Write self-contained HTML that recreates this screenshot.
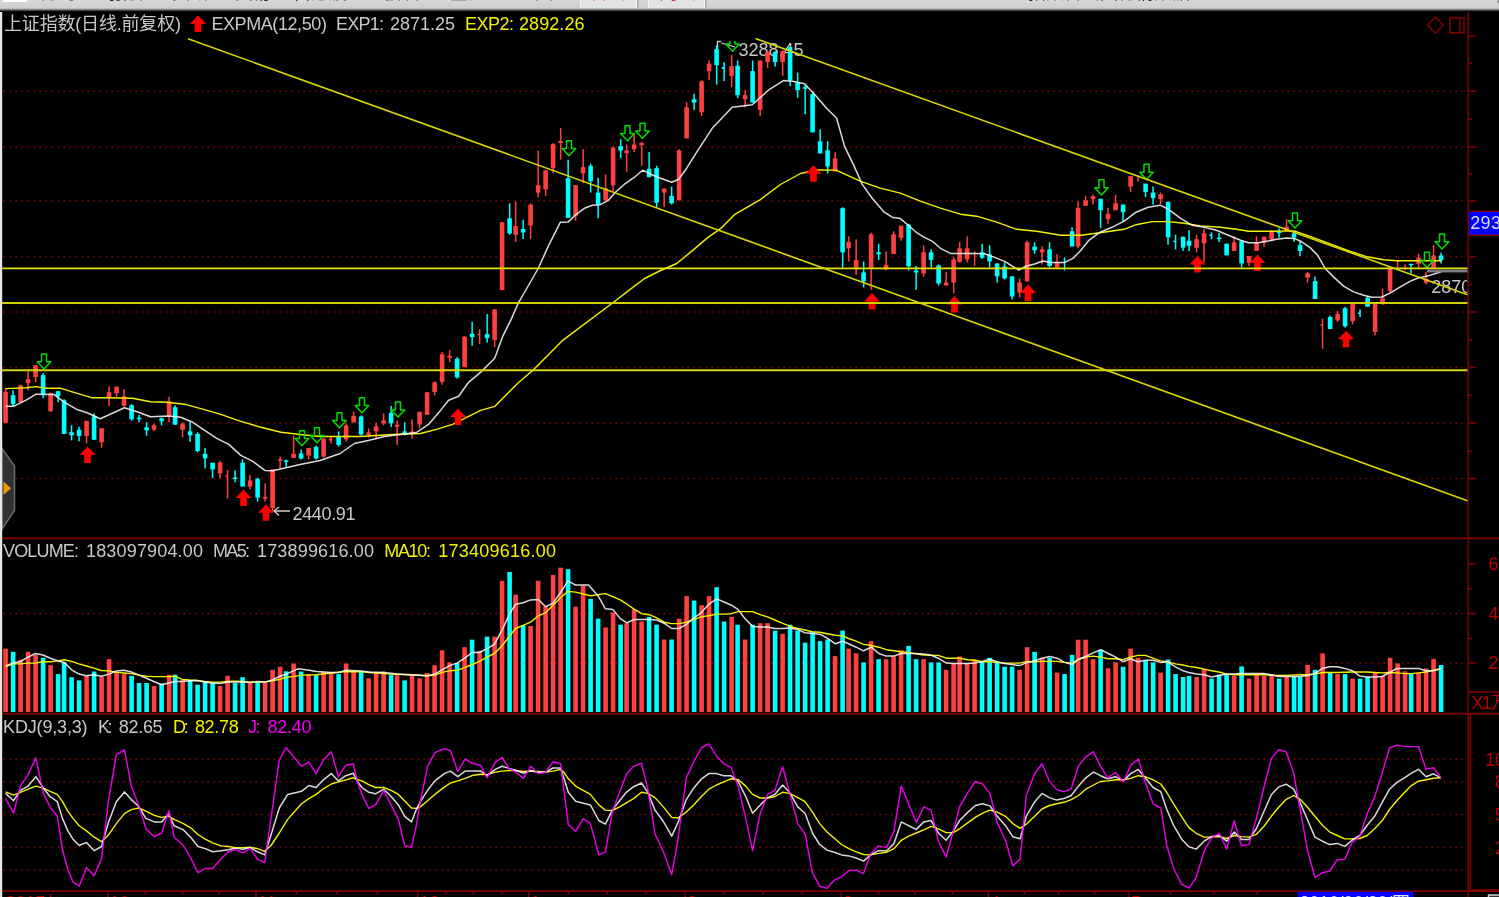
<!DOCTYPE html>
<html lang="zh"><head><meta charset="utf-8"><title>上证指数 日线</title>
<style>
html,body{margin:0;padding:0;background:#000;}
body{width:1499px;height:897px;overflow:hidden;position:relative;font-family:'Liberation Sans','Noto Sans CJK SC',sans-serif;}
#tb{position:absolute;left:0;top:0;width:1499px;height:12px;overflow:hidden;background:linear-gradient(#d8d8d8 0,#cfcfcf 8px,#b0b0b0 8.8px,#6c6c6c 9.9px,#1c1c1c 11px,#000 11.7px);font-size:18px;line-height:18px;color:#222;}
#tb span{position:absolute;top:-16.1px;white-space:nowrap;}
#tb .tab{position:absolute;top:0;height:8px;background:#e3e3e3;border-left:1.5px solid #f4f4f4;border-right:1.5px solid #f4f4f4;box-sizing:border-box;box-shadow:1.5px 0 0 #a8a8a8;}
#tb .w{position:absolute;left:3px;top:0;width:24px;height:2.2px;background:#fff;}
svg{position:absolute;left:0;top:0;}
svg text{font-family:'Liberation Sans','Noto Sans CJK SC',sans-serif;white-space:pre;}
</style></head><body>
<svg width="1499" height="897" viewBox="0 0 1499 897">
<defs><clipPath id="cm"><rect x="0" y="0" width="1467.3" height="897"/></clipPath><clipPath id="cg"><rect x="0" y="41" width="1467.3" height="497"/></clipPath></defs>
<line x1="3.55" y1="91.2" x2="1464" y2="91.2" stroke="#8c0000" stroke-width="1.5" stroke-dasharray="1.5 4.5"/>
<line x1="3.55" y1="147" x2="1464" y2="147" stroke="#8c0000" stroke-width="1.5" stroke-dasharray="1.5 4.5"/>
<line x1="3.55" y1="201" x2="1464" y2="201" stroke="#8c0000" stroke-width="1.5" stroke-dasharray="1.5 4.5"/>
<line x1="3.55" y1="256.5" x2="1464" y2="256.5" stroke="#8c0000" stroke-width="1.5" stroke-dasharray="1.5 4.5"/>
<line x1="3.55" y1="312" x2="1464" y2="312" stroke="#8c0000" stroke-width="1.5" stroke-dasharray="1.5 4.5"/>
<line x1="3.55" y1="367.5" x2="1464" y2="367.5" stroke="#8c0000" stroke-width="1.5" stroke-dasharray="1.5 4.5"/>
<line x1="3.55" y1="423" x2="1464" y2="423" stroke="#8c0000" stroke-width="1.5" stroke-dasharray="1.5 4.5"/>
<line x1="3.55" y1="478.5" x2="1464" y2="478.5" stroke="#8c0000" stroke-width="1.5" stroke-dasharray="1.5 4.5"/>
<line x1="3.55" y1="613.5" x2="1464" y2="613.5" stroke="#8c0000" stroke-width="1.5" stroke-dasharray="1.5 4.5"/>
<line x1="3.55" y1="663" x2="1464" y2="663" stroke="#8c0000" stroke-width="1.5" stroke-dasharray="1.5 4.5"/>
<line x1="3.55" y1="759.3" x2="1464" y2="759.3" stroke="#8c0000" stroke-width="1.5" stroke-dasharray="1.5 4.5"/>
<line x1="3.55" y1="781.8" x2="1464" y2="781.8" stroke="#8c0000" stroke-width="1.5" stroke-dasharray="1.5 4.5"/>
<line x1="3.55" y1="814.6" x2="1464" y2="814.6" stroke="#8c0000" stroke-width="1.5" stroke-dasharray="1.5 4.5"/>
<line x1="3.55" y1="847.6" x2="1464" y2="847.6" stroke="#8c0000" stroke-width="1.5" stroke-dasharray="1.5 4.5"/>
<line x1="3.55" y1="870.1" x2="1464" y2="870.1" stroke="#8c0000" stroke-width="1.5" stroke-dasharray="1.5 4.5"/>
<line x1="1468.3" y1="10.5" x2="1468.3" y2="897" stroke="#800000" stroke-width="1.6" />
<line x1="1470.2" y1="714" x2="1470.2" y2="891" stroke="#800000" stroke-width="1.6" />
<line x1="2" y1="538.4" x2="1499" y2="538.4" stroke="#800000" stroke-width="1.6" />
<line x1="2" y1="713.6" x2="1499" y2="713.6" stroke="#800000" stroke-width="1.6" />
<line x1="2" y1="891.1" x2="1499" y2="891.1" stroke="#800000" stroke-width="1.8" />
<line x1="1468.3" y1="35.8" x2="1476.5" y2="35.8" stroke="#800000" stroke-width="1.5" />
<line x1="1468.3" y1="91.2" x2="1476.5" y2="91.2" stroke="#800000" stroke-width="1.5" />
<line x1="1468.3" y1="147" x2="1476.5" y2="147" stroke="#800000" stroke-width="1.5" />
<line x1="1468.3" y1="201" x2="1476.5" y2="201" stroke="#800000" stroke-width="1.5" />
<line x1="1468.3" y1="256.5" x2="1476.5" y2="256.5" stroke="#800000" stroke-width="1.5" />
<line x1="1468.3" y1="312" x2="1476.5" y2="312" stroke="#800000" stroke-width="1.5" />
<line x1="1468.3" y1="367.5" x2="1476.5" y2="367.5" stroke="#800000" stroke-width="1.5" />
<line x1="1468.3" y1="423" x2="1476.5" y2="423" stroke="#800000" stroke-width="1.5" />
<line x1="1468.3" y1="478.5" x2="1476.5" y2="478.5" stroke="#800000" stroke-width="1.5" />
<line x1="1468.3" y1="63.5" x2="1472.3" y2="63.5" stroke="#800000" stroke-width="1.5" />
<line x1="1468.3" y1="119" x2="1472.3" y2="119" stroke="#800000" stroke-width="1.5" />
<line x1="1468.3" y1="174" x2="1472.3" y2="174" stroke="#800000" stroke-width="1.5" />
<line x1="1468.3" y1="284.5" x2="1472.3" y2="284.5" stroke="#800000" stroke-width="1.5" />
<line x1="1468.3" y1="340" x2="1472.3" y2="340" stroke="#800000" stroke-width="1.5" />
<line x1="1468.3" y1="395" x2="1472.3" y2="395" stroke="#800000" stroke-width="1.5" />
<line x1="1468.3" y1="451" x2="1472.3" y2="451" stroke="#800000" stroke-width="1.5" />
<line x1="1468.3" y1="563.7" x2="1476.3" y2="563.7" stroke="#800000" stroke-width="1.5" />
<line x1="1468.3" y1="589" x2="1472.3" y2="589" stroke="#800000" stroke-width="1.5" />
<line x1="1468.3" y1="613.5" x2="1476.3" y2="613.5" stroke="#800000" stroke-width="1.5" />
<line x1="1468.3" y1="638.5" x2="1472.3" y2="638.5" stroke="#800000" stroke-width="1.5" />
<line x1="1468.3" y1="663" x2="1476.3" y2="663" stroke="#800000" stroke-width="1.5" />
<line x1="1468.3" y1="692" x2="1499" y2="692" stroke="#800000" stroke-width="1.6" />
<line x1="274" y1="511" x2="290" y2="511" stroke="#d0d0d0" stroke-width="1.5" />
<polyline points="279,507 274,511 279,515.5" fill="none" stroke="#d0d0d0" stroke-width="1.3" stroke-linejoin="round" />
<text x="292.5" y="519.5" fill="#c8c8c8" font-size="18"  textLength="63" lengthAdjust="spacing">2440.91</text>
<line x1="721" y1="43" x2="735" y2="47" stroke="#d0d0d0" stroke-width="1.3" />
<polyline points="717.5,49 717.5,41.5 721,41.5" fill="none" stroke="#d0d0d0" stroke-width="1.3" stroke-linejoin="round" />
<text x="738.4" y="56" fill="#c8c8c8" font-size="18"  textLength="65" lengthAdjust="spacing">3288.45</text>
<text x="1431.3" y="293" fill="#c8c8c8" font-size="18" clip-path="url(#cm)" textLength="65" lengthAdjust="spacing">2870.00</text>
<rect x="4.8" y="388.2" width="1.5" height="35.1" fill="#ff4040" />
<rect x="3.3" y="391.8" width="4.6" height="30.9" fill="#ff4040" />
<rect x="12.3" y="390.2" width="1.5" height="16.1" fill="#00ffff" />
<rect x="10.8" y="395.2" width="4.6" height="9" fill="#00ffff" />
<rect x="19.9" y="384.6" width="1.5" height="18.1" fill="#ff4040" />
<rect x="18.3" y="385.2" width="4.6" height="17.1" fill="#ff4040" />
<rect x="27.4" y="371.1" width="1.5" height="19.1" fill="#ff4040" />
<rect x="25.8" y="379.1" width="4.6" height="4" fill="#ff4040" />
<rect x="34.9" y="365.1" width="1.5" height="17.1" fill="#ff4040" />
<rect x="33.3" y="365.1" width="4.6" height="12" fill="#ff4040" />
<rect x="42.4" y="373.1" width="1.5" height="25.1" fill="#00ffff" />
<rect x="40.8" y="375.1" width="4.6" height="20.1" fill="#00ffff" />
<rect x="49.9" y="392.6" width="1.5" height="19.1" fill="#ff4040" />
<rect x="48.3" y="393.2" width="4.6" height="18.1" fill="#ff4040" />
<rect x="57.4" y="391.2" width="1.5" height="11" fill="#00ffff" />
<rect x="55.8" y="391.2" width="4.6" height="5" fill="#00ffff" />
<rect x="63.3" y="399.2" width="1.5" height="34.7" fill="#00ffff" />
<rect x="61.8" y="400.2" width="4.6" height="33.7" fill="#00ffff" />
<rect x="70.8" y="425.3" width="1.5" height="15.1" fill="#00ffff" />
<rect x="69.3" y="432.3" width="4.6" height="3" fill="#00ffff" />
<rect x="78.3" y="426.7" width="1.5" height="14.6" fill="#00ffff" />
<rect x="76.8" y="429.7" width="4.6" height="6.2" fill="#00ffff" />
<rect x="85.8" y="420.9" width="1.5" height="22.5" fill="#ff4040" />
<rect x="84.3" y="420.9" width="4.6" height="15.1" fill="#ff4040" />
<rect x="93.3" y="413.2" width="1.5" height="26.5" fill="#00ffff" />
<rect x="91.8" y="416.3" width="4.6" height="23.5" fill="#00ffff" />
<rect x="100.8" y="428.3" width="1.5" height="19.5" fill="#ff4040" />
<rect x="99.3" y="428.3" width="4.6" height="14" fill="#ff4040" />
<rect x="108.3" y="386.2" width="1.5" height="19.7" fill="#ff4040" />
<rect x="106.8" y="392.2" width="4.6" height="5" fill="#ff4040" />
<rect x="115.8" y="386.6" width="1.5" height="10" fill="#ff4040" />
<rect x="114.3" y="386.6" width="4.6" height="6.6" fill="#ff4040" />
<rect x="123.3" y="389.2" width="1.5" height="17.5" fill="#ff4040" />
<rect x="121.8" y="396.2" width="4.6" height="9.6" fill="#ff4040" />
<rect x="130.8" y="404.2" width="1.5" height="16.5" fill="#00ffff" />
<rect x="129.3" y="405.2" width="4.6" height="14" fill="#00ffff" />
<rect x="138.3" y="414.7" width="1.5" height="7.6" fill="#00ffff" />
<rect x="136.8" y="417.7" width="4.6" height="1.6" fill="#00ffff" />
<rect x="145.8" y="422.3" width="1.5" height="13.4" fill="#00ffff" />
<rect x="144.3" y="427.3" width="4.6" height="3" fill="#00ffff" />
<rect x="153.3" y="423.9" width="1.5" height="7.4" fill="#ff4040" />
<rect x="151.8" y="425.3" width="4.6" height="4.4" fill="#ff4040" />
<rect x="160.8" y="417.3" width="1.5" height="8" fill="#00ffff" />
<rect x="159.3" y="418.3" width="4.6" height="3" fill="#00ffff" />
<rect x="168.3" y="396.8" width="1.5" height="25.5" fill="#ff4040" />
<rect x="166.8" y="401.2" width="4.6" height="15.1" fill="#ff4040" />
<rect x="174.3" y="405.2" width="1.5" height="19.5" fill="#00ffff" />
<rect x="172.8" y="407.2" width="4.6" height="17.5" fill="#00ffff" />
<rect x="181.8" y="422.3" width="1.5" height="15.1" fill="#ff4040" />
<rect x="180.3" y="423.7" width="4.6" height="6" fill="#ff4040" />
<rect x="189.3" y="422.3" width="1.5" height="19.5" fill="#00ffff" />
<rect x="187.8" y="431.3" width="4.6" height="4" fill="#00ffff" />
<rect x="196.8" y="432.3" width="1.5" height="20.1" fill="#00ffff" />
<rect x="195.3" y="433.9" width="4.6" height="17.1" fill="#00ffff" />
<rect x="204.3" y="447.8" width="1.5" height="20.7" fill="#00ffff" />
<rect x="202.8" y="453.8" width="4.6" height="4.6" fill="#00ffff" />
<rect x="211.8" y="462.8" width="1.5" height="15.3" fill="#00ffff" />
<rect x="210.3" y="462.8" width="4.6" height="6.6" fill="#00ffff" />
<rect x="219.3" y="461" width="1.5" height="17.5" fill="#ff4040" />
<rect x="217.8" y="462.4" width="4.6" height="11" fill="#ff4040" />
<rect x="226.8" y="470" width="1.5" height="28.5" fill="#ff4040" />
<rect x="225.3" y="475.4" width="2.3" height="1.5" fill="#ff4040" />
<rect x="234.3" y="470.4" width="1.5" height="12" fill="#00ffff" />
<rect x="232.8" y="477.5" width="4.6" height="1.6" fill="#00ffff" />
<rect x="241.8" y="459.4" width="1.5" height="27.1" fill="#00ffff" />
<rect x="240.3" y="462.8" width="4.6" height="23.7" fill="#00ffff" />
<rect x="249.3" y="474.9" width="1.5" height="14.6" fill="#ff4040" />
<rect x="247.8" y="480.5" width="4.6" height="6" fill="#ff4040" />
<rect x="256.9" y="477.5" width="1.5" height="24.1" fill="#00ffff" />
<rect x="255.3" y="478.9" width="4.6" height="18.7" fill="#00ffff" />
<rect x="264.4" y="483.5" width="1.5" height="18.1" fill="#ff4040" />
<rect x="262.8" y="496.9" width="4.6" height="1.6" fill="#ff4040" />
<rect x="271.9" y="469.4" width="1.5" height="42.1" fill="#ff4040" />
<rect x="270.3" y="469.4" width="4.6" height="38.7" fill="#ff4040" />
<rect x="279.4" y="456.4" width="1.5" height="12" fill="#ff4040" />
<rect x="277.8" y="459.4" width="4.6" height="1.6" fill="#ff4040" />
<rect x="285.4" y="459.4" width="1.5" height="8" fill="#00ffff" />
<rect x="283.8" y="460.4" width="4.6" height="1.5" fill="#00ffff" />
<rect x="292.9" y="435.9" width="1.5" height="21.9" fill="#ff4040" />
<rect x="291.3" y="453.8" width="4.6" height="4" fill="#ff4040" />
<rect x="300.4" y="449.5" width="1.5" height="10" fill="#00ffff" />
<rect x="298.8" y="453.5" width="4.6" height="5" fill="#00ffff" />
<rect x="307.9" y="447.9" width="1.5" height="11.6" fill="#ff4040" />
<rect x="306.3" y="447.9" width="4.6" height="7.6" fill="#ff4040" />
<rect x="315.4" y="445.5" width="1.5" height="14" fill="#00ffff" />
<rect x="313.8" y="446.9" width="4.6" height="11.6" fill="#00ffff" />
<rect x="322.9" y="438.5" width="1.5" height="19.1" fill="#ff4040" />
<rect x="321.3" y="438.5" width="4.6" height="18.1" fill="#ff4040" />
<rect x="330.4" y="436.5" width="1.5" height="7" fill="#ff4040" />
<rect x="328.8" y="438.5" width="2.3" height="2" fill="#ff4040" />
<rect x="337.9" y="431.4" width="1.5" height="15.1" fill="#00ffff" />
<rect x="336.3" y="436.5" width="4.6" height="8.4" fill="#00ffff" />
<rect x="345.4" y="423.4" width="1.5" height="18.1" fill="#ff4040" />
<rect x="343.8" y="425.4" width="4.6" height="14" fill="#ff4040" />
<rect x="352.9" y="411.4" width="1.5" height="11" fill="#ff4040" />
<rect x="351.3" y="415.8" width="4.6" height="6.6" fill="#ff4040" />
<rect x="360.4" y="415.4" width="1.5" height="20.1" fill="#00ffff" />
<rect x="358.8" y="416.4" width="4.6" height="18.1" fill="#00ffff" />
<rect x="367.9" y="428.4" width="1.5" height="9" fill="#ff4040" />
<rect x="366.3" y="432.5" width="4.6" height="2.4" fill="#ff4040" />
<rect x="375.4" y="422.8" width="1.5" height="16.7" fill="#ff4040" />
<rect x="373.8" y="426.4" width="4.6" height="5" fill="#ff4040" />
<rect x="382.9" y="413.4" width="1.5" height="12" fill="#ff4040" />
<rect x="381.3" y="420.4" width="4.6" height="3" fill="#ff4040" />
<rect x="390.4" y="406" width="1.5" height="20.9" fill="#00ffff" />
<rect x="388.8" y="412.8" width="4.6" height="10.6" fill="#00ffff" />
<rect x="396.4" y="420.4" width="1.5" height="24.5" fill="#ff4040" />
<rect x="394.8" y="424.8" width="4.6" height="2" fill="#ff4040" />
<rect x="403.9" y="422.4" width="1.5" height="13" fill="#00ffff" />
<rect x="402.3" y="431.4" width="4.6" height="3.4" fill="#00ffff" />
<rect x="411.4" y="419.4" width="1.5" height="19.5" fill="#ff4040" />
<rect x="409.8" y="431.4" width="4.6" height="2" fill="#ff4040" />
<rect x="418.9" y="411.8" width="1.5" height="16.7" fill="#ff4040" />
<rect x="417.3" y="411.8" width="4.6" height="12.6" fill="#ff4040" />
<rect x="426.4" y="392.3" width="1.5" height="22.5" fill="#ff4040" />
<rect x="424.8" y="392.3" width="4.6" height="22.5" fill="#ff4040" />
<rect x="433.9" y="381.3" width="1.5" height="14" fill="#ff4040" />
<rect x="432.3" y="382.3" width="4.6" height="9.6" fill="#ff4040" />
<rect x="441.4" y="351.8" width="1.5" height="32.9" fill="#ff4040" />
<rect x="439.8" y="354.2" width="4.6" height="27.7" fill="#ff4040" />
<rect x="448.9" y="350.2" width="1.5" height="12" fill="#ff4040" />
<rect x="447.3" y="355.8" width="4.6" height="2" fill="#ff4040" />
<rect x="456.4" y="357.2" width="1.5" height="21.5" fill="#00ffff" />
<rect x="454.8" y="358.8" width="4.6" height="18.5" fill="#00ffff" />
<rect x="463.9" y="336.5" width="1.5" height="30.7" fill="#ff4040" />
<rect x="462.3" y="336.5" width="4.6" height="30.7" fill="#ff4040" />
<rect x="471.4" y="321.7" width="1.5" height="24.1" fill="#00ffff" />
<rect x="469.8" y="333.7" width="4.6" height="3.4" fill="#00ffff" />
<rect x="478.9" y="329.1" width="1.5" height="15.1" fill="#ff4040" />
<rect x="477.3" y="333.7" width="2.3" height="1.6" fill="#ff4040" />
<rect x="486.4" y="314" width="1.5" height="28.7" fill="#00ffff" />
<rect x="484.8" y="334.1" width="4.6" height="4" fill="#00ffff" />
<rect x="493.9" y="309.4" width="1.5" height="37.7" fill="#ff4040" />
<rect x="492.3" y="309.4" width="4.6" height="30.7" fill="#ff4040" />
<rect x="501.4" y="222.3" width="1.5" height="67.8" fill="#ff4040" />
<rect x="499.8" y="222.3" width="4.6" height="67.8" fill="#ff4040" />
<rect x="508.9" y="203.3" width="1.5" height="31.5" fill="#00ffff" />
<rect x="507.3" y="218.3" width="4.6" height="15.1" fill="#00ffff" />
<rect x="514.9" y="201.3" width="1.5" height="40.7" fill="#ff4040" />
<rect x="513.3" y="226" width="4.6" height="8.8" fill="#ff4040" />
<rect x="522.4" y="219.7" width="1.5" height="19.3" fill="#00ffff" />
<rect x="520.8" y="229" width="4.6" height="3.4" fill="#00ffff" />
<rect x="529.9" y="203.3" width="1.5" height="35.7" fill="#ff4040" />
<rect x="528.3" y="204.7" width="4.6" height="20.7" fill="#ff4040" />
<rect x="537.4" y="150.5" width="1.5" height="46.8" fill="#ff4040" />
<rect x="535.8" y="185.2" width="4.6" height="7.4" fill="#ff4040" />
<rect x="544.9" y="170.2" width="1.5" height="25.7" fill="#ff4040" />
<rect x="543.3" y="170.2" width="4.6" height="19.1" fill="#ff4040" />
<rect x="552.4" y="143.1" width="1.5" height="30.1" fill="#ff4040" />
<rect x="550.8" y="144.1" width="4.6" height="24.1" fill="#ff4040" />
<rect x="559.9" y="128" width="1.5" height="31.7" fill="#ff4040" />
<rect x="558.3" y="141.1" width="4.6" height="2" fill="#ff4040" />
<rect x="567.4" y="159.7" width="1.5" height="58.2" fill="#00ffff" />
<rect x="565.8" y="178.2" width="4.6" height="39.7" fill="#00ffff" />
<rect x="574.9" y="185.2" width="1.5" height="35.7" fill="#ff4040" />
<rect x="573.3" y="185.2" width="4.6" height="30.7" fill="#ff4040" />
<rect x="582.4" y="149.1" width="1.5" height="34.1" fill="#ff4040" />
<rect x="580.8" y="167.2" width="4.6" height="6" fill="#ff4040" />
<rect x="589.9" y="163.7" width="1.5" height="28.9" fill="#00ffff" />
<rect x="588.3" y="165.8" width="4.6" height="15.5" fill="#00ffff" />
<rect x="597.4" y="177.8" width="1.5" height="40.5" fill="#00ffff" />
<rect x="595.8" y="192.6" width="4.6" height="11.6" fill="#00ffff" />
<rect x="604.9" y="174.6" width="1.5" height="26.7" fill="#ff4040" />
<rect x="603.3" y="188.2" width="4.6" height="12" fill="#ff4040" />
<rect x="612.4" y="146.1" width="1.5" height="45.2" fill="#ff4040" />
<rect x="610.8" y="147.7" width="4.6" height="37.5" fill="#ff4040" />
<rect x="619.9" y="139.1" width="1.5" height="19.1" fill="#00ffff" />
<rect x="618.3" y="146.1" width="4.6" height="4.4" fill="#00ffff" />
<rect x="625.9" y="144.5" width="1.5" height="27.3" fill="#ff4040" />
<rect x="624.3" y="150.5" width="4.6" height="2.6" fill="#ff4040" />
<rect x="633.4" y="133.6" width="1.5" height="18.5" fill="#ff4040" />
<rect x="631.8" y="144.5" width="4.6" height="4.6" fill="#ff4040" />
<rect x="640.9" y="141.7" width="1.5" height="24.1" fill="#ff4040" />
<rect x="639.3" y="143.1" width="4.6" height="2" fill="#ff4040" />
<rect x="648.4" y="152.1" width="1.5" height="25.1" fill="#00ffff" />
<rect x="646.8" y="168.8" width="4.6" height="8.4" fill="#00ffff" />
<rect x="655.9" y="165.8" width="1.5" height="41.5" fill="#00ffff" />
<rect x="654.3" y="168.2" width="4.6" height="34.5" fill="#00ffff" />
<rect x="663.4" y="188.6" width="1.5" height="18.7" fill="#ff4040" />
<rect x="661.8" y="188.6" width="4.6" height="4" fill="#ff4040" />
<rect x="670.9" y="186.6" width="1.5" height="18.1" fill="#00ffff" />
<rect x="669.3" y="195.9" width="4.6" height="7.4" fill="#00ffff" />
<rect x="678.4" y="149.1" width="1.5" height="51.2" fill="#ff4040" />
<rect x="676.8" y="150.5" width="4.6" height="49.8" fill="#ff4040" />
<rect x="685.9" y="102.2" width="1.5" height="36.1" fill="#ff4040" />
<rect x="684.3" y="107.3" width="4.6" height="31.1" fill="#ff4040" />
<rect x="693.4" y="93.8" width="1.5" height="16.1" fill="#00ffff" />
<rect x="691.8" y="99.2" width="4.6" height="3.4" fill="#00ffff" />
<rect x="700.9" y="80.2" width="1.5" height="35.7" fill="#ff4040" />
<rect x="699.3" y="81.2" width="4.6" height="31.1" fill="#ff4040" />
<rect x="708.4" y="60.5" width="1.5" height="19.7" fill="#ff4040" />
<rect x="706.8" y="63.7" width="4.6" height="7.4" fill="#ff4040" />
<rect x="715.9" y="45.1" width="1.5" height="39.5" fill="#00ffff" />
<rect x="714.3" y="49.1" width="4.6" height="16.1" fill="#00ffff" />
<rect x="723.4" y="62.1" width="1.5" height="19.1" fill="#00ffff" />
<rect x="721.8" y="67.1" width="2.3" height="2" fill="#00ffff" />
<rect x="730.9" y="55.1" width="1.5" height="32.1" fill="#ff4040" />
<rect x="729.3" y="66.1" width="4.6" height="10" fill="#ff4040" />
<rect x="736.9" y="60.5" width="1.5" height="37.7" fill="#00ffff" />
<rect x="735.3" y="65.7" width="4.6" height="29.5" fill="#00ffff" />
<rect x="744.4" y="90.2" width="1.5" height="17.1" fill="#ff4040" />
<rect x="742.8" y="95.2" width="4.6" height="4" fill="#ff4040" />
<rect x="751.9" y="60.5" width="1.5" height="42.1" fill="#00ffff" />
<rect x="750.3" y="71.1" width="4.6" height="31.5" fill="#00ffff" />
<rect x="759.4" y="60.5" width="1.5" height="55.4" fill="#ff4040" />
<rect x="757.8" y="60.5" width="4.6" height="49.4" fill="#ff4040" />
<rect x="766.9" y="51.1" width="1.5" height="17.1" fill="#ff4040" />
<rect x="765.3" y="52.1" width="4.6" height="10" fill="#ff4040" />
<rect x="774.4" y="51.1" width="1.5" height="15.5" fill="#00ffff" />
<rect x="772.8" y="52.1" width="4.6" height="10" fill="#00ffff" />
<rect x="781.9" y="50.1" width="1.5" height="25.7" fill="#ff4040" />
<rect x="780.3" y="51.1" width="4.6" height="11" fill="#ff4040" />
<rect x="789.4" y="47.1" width="1.5" height="39.1" fill="#00ffff" />
<rect x="787.8" y="47.1" width="4.6" height="33.1" fill="#00ffff" />
<rect x="796.9" y="72.5" width="1.5" height="25.3" fill="#00ffff" />
<rect x="795.3" y="82.6" width="4.6" height="7.6" fill="#00ffff" />
<rect x="804.4" y="85.2" width="1.5" height="29.1" fill="#00ffff" />
<rect x="802.8" y="87.2" width="4.6" height="1.6" fill="#00ffff" />
<rect x="811.9" y="91.2" width="1.5" height="41.1" fill="#00ffff" />
<rect x="810.3" y="94.2" width="4.6" height="38.1" fill="#00ffff" />
<rect x="819.4" y="129.3" width="1.5" height="24.1" fill="#00ffff" />
<rect x="817.8" y="141.4" width="4.6" height="12" fill="#00ffff" />
<rect x="826.9" y="141.4" width="1.5" height="32.1" fill="#00ffff" />
<rect x="825.3" y="150.4" width="4.6" height="16.1" fill="#00ffff" />
<rect x="834.4" y="152" width="1.5" height="19.5" fill="#ff4040" />
<rect x="832.8" y="158.4" width="4.6" height="13" fill="#ff4040" />
<rect x="841.9" y="207.2" width="1.5" height="60.2" fill="#00ffff" />
<rect x="840.3" y="208.2" width="4.6" height="44.2" fill="#00ffff" />
<rect x="847.9" y="236.3" width="1.5" height="25.1" fill="#ff4040" />
<rect x="846.3" y="241.9" width="4.6" height="6.4" fill="#ff4040" />
<rect x="855.4" y="239.3" width="1.5" height="35.5" fill="#ff4040" />
<rect x="853.8" y="260" width="4.6" height="9.4" fill="#ff4040" />
<rect x="862.9" y="261.4" width="1.5" height="26.1" fill="#00ffff" />
<rect x="861.3" y="272.4" width="4.6" height="9" fill="#00ffff" />
<rect x="870.4" y="232.7" width="1.5" height="57.2" fill="#ff4040" />
<rect x="868.8" y="234.3" width="4.6" height="34.1" fill="#ff4040" />
<rect x="877.9" y="243.7" width="1.5" height="16.3" fill="#00ffff" />
<rect x="876.3" y="252.3" width="4.6" height="2" fill="#00ffff" />
<rect x="885.4" y="251.3" width="1.5" height="19.1" fill="#ff4040" />
<rect x="883.8" y="264.8" width="4.6" height="4.6" fill="#ff4040" />
<rect x="892.9" y="231.3" width="1.5" height="22.7" fill="#ff4040" />
<rect x="891.3" y="234.3" width="4.6" height="19.7" fill="#ff4040" />
<rect x="900.4" y="225.7" width="1.5" height="15.1" fill="#ff4040" />
<rect x="898.8" y="225.7" width="4.6" height="12.2" fill="#ff4040" />
<rect x="907.9" y="223.7" width="1.5" height="46.8" fill="#00ffff" />
<rect x="906.3" y="224.7" width="4.6" height="41.7" fill="#00ffff" />
<rect x="915.4" y="266" width="1.5" height="23.9" fill="#00ffff" />
<rect x="913.8" y="270.4" width="4.6" height="2" fill="#00ffff" />
<rect x="922.9" y="245.3" width="1.5" height="31.5" fill="#ff4040" />
<rect x="921.3" y="252.3" width="4.6" height="21.1" fill="#ff4040" />
<rect x="930.4" y="249.3" width="1.5" height="18.1" fill="#00ffff" />
<rect x="928.8" y="252.3" width="4.6" height="7.6" fill="#00ffff" />
<rect x="937.9" y="264.4" width="1.5" height="21.1" fill="#00ffff" />
<rect x="936.3" y="265.4" width="4.6" height="18.1" fill="#00ffff" />
<rect x="945.4" y="272" width="1.5" height="13.4" fill="#ff4040" />
<rect x="943.8" y="282.5" width="4.6" height="3" fill="#ff4040" />
<rect x="952.9" y="256.8" width="1.5" height="36.7" fill="#ff4040" />
<rect x="951.3" y="259.4" width="4.6" height="23.1" fill="#ff4040" />
<rect x="958.9" y="241.9" width="1.5" height="20.9" fill="#ff4040" />
<rect x="957.3" y="248.3" width="4.6" height="13.6" fill="#ff4040" />
<rect x="966.4" y="236.3" width="1.5" height="26.1" fill="#ff4040" />
<rect x="964.8" y="248.3" width="4.6" height="11" fill="#ff4040" />
<rect x="973.9" y="251.3" width="1.5" height="14.6" fill="#ff4040" />
<rect x="981.4" y="243.7" width="1.5" height="15.1" fill="#00ffff" />
<rect x="979.8" y="252.3" width="4.6" height="5.4" fill="#00ffff" />
<rect x="988.9" y="245.3" width="1.5" height="22.1" fill="#00ffff" />
<rect x="987.3" y="254.4" width="4.6" height="7" fill="#00ffff" />
<rect x="996.4" y="263.4" width="1.5" height="19.1" fill="#00ffff" />
<rect x="994.8" y="263.4" width="4.6" height="13" fill="#00ffff" />
<rect x="1003.9" y="262.4" width="1.5" height="17.1" fill="#00ffff" />
<rect x="1002.3" y="266.4" width="4.6" height="12" fill="#00ffff" />
<rect x="1011.4" y="276.4" width="1.5" height="23.1" fill="#00ffff" />
<rect x="1009.8" y="276.4" width="4.6" height="20.1" fill="#00ffff" />
<rect x="1018.9" y="278.4" width="1.5" height="19.1" fill="#ff4040" />
<rect x="1017.3" y="282.5" width="4.6" height="10" fill="#ff4040" />
<rect x="1026.3" y="240.7" width="1.5" height="40.7" fill="#ff4040" />
<rect x="1024.8" y="242.3" width="4.6" height="39.1" fill="#ff4040" />
<rect x="1033.8" y="242.3" width="1.5" height="11.6" fill="#00ffff" />
<rect x="1032.3" y="246.7" width="4.6" height="3.6" fill="#00ffff" />
<rect x="1041.3" y="246.3" width="1.5" height="18.1" fill="#ff4040" />
<rect x="1039.8" y="249.3" width="4.6" height="3" fill="#ff4040" />
<rect x="1048.8" y="242.3" width="1.5" height="25.1" fill="#00ffff" />
<rect x="1047.3" y="249.3" width="4.6" height="16.7" fill="#00ffff" />
<rect x="1056.3" y="254" width="1.5" height="13.4" fill="#ff4040" />
<rect x="1054.8" y="262.4" width="4.6" height="5" fill="#ff4040" />
<rect x="1063.8" y="257.4" width="1.5" height="13" fill="#00ffff" />
<rect x="1071.3" y="227.3" width="1.5" height="19.1" fill="#00ffff" />
<rect x="1069.8" y="231.3" width="4.6" height="15.1" fill="#00ffff" />
<rect x="1077.3" y="201.2" width="1.5" height="47.2" fill="#ff4040" />
<rect x="1075.8" y="207.8" width="4.6" height="38.5" fill="#ff4040" />
<rect x="1084.8" y="195.8" width="1.5" height="10" fill="#ff4040" />
<rect x="1083.3" y="200.2" width="4.6" height="5.6" fill="#ff4040" />
<rect x="1092.3" y="194.6" width="1.5" height="10" fill="#ff4040" />
<rect x="1090.8" y="196.2" width="4.6" height="3" fill="#ff4040" />
<rect x="1099.8" y="198.8" width="1.5" height="29.5" fill="#00ffff" />
<rect x="1098.3" y="198.8" width="4.6" height="11.4" fill="#00ffff" />
<rect x="1107.3" y="207.8" width="1.5" height="16.1" fill="#ff4040" />
<rect x="1105.8" y="213.8" width="4.6" height="5.4" fill="#ff4040" />
<rect x="1114.8" y="194.6" width="1.5" height="15.7" fill="#ff4040" />
<rect x="1113.3" y="203.2" width="4.6" height="7" fill="#ff4040" />
<rect x="1122.3" y="204.6" width="1.5" height="16.7" fill="#00ffff" />
<rect x="1120.8" y="204.6" width="4.6" height="7.6" fill="#00ffff" />
<rect x="1129.8" y="176.1" width="1.5" height="16.1" fill="#ff4040" />
<rect x="1128.3" y="176.1" width="4.6" height="10.4" fill="#ff4040" />
<rect x="1137.3" y="176.1" width="1.5" height="5.6" fill="#ff4040" />
<rect x="1144.8" y="183.7" width="1.5" height="13.4" fill="#00ffff" />
<rect x="1143.3" y="183.7" width="4.6" height="8.4" fill="#00ffff" />
<rect x="1152.3" y="186.5" width="1.5" height="18.1" fill="#00ffff" />
<rect x="1150.8" y="192.5" width="4.6" height="5.6" fill="#00ffff" />
<rect x="1159.8" y="192.5" width="1.5" height="11.6" fill="#ff4040" />
<rect x="1158.3" y="194.2" width="4.6" height="5" fill="#ff4040" />
<rect x="1167.3" y="201.8" width="1.5" height="42.9" fill="#00ffff" />
<rect x="1165.8" y="201.8" width="4.6" height="35.5" fill="#00ffff" />
<rect x="1174.8" y="234.7" width="1.5" height="14.6" fill="#00ffff" />
<rect x="1173.3" y="240.6" width="2.3" height="1.5" fill="#00ffff" />
<rect x="1182.3" y="236.7" width="1.5" height="14.2" fill="#00ffff" />
<rect x="1180.8" y="236.7" width="4.6" height="11" fill="#00ffff" />
<rect x="1188.3" y="230.3" width="1.5" height="20.7" fill="#00ffff" />
<rect x="1186.8" y="240.7" width="4.6" height="5.2" fill="#00ffff" />
<rect x="1195.8" y="234.7" width="1.5" height="17.7" fill="#ff4040" />
<rect x="1194.3" y="239.3" width="4.6" height="8.4" fill="#ff4040" />
<rect x="1203.3" y="228.7" width="1.5" height="33.7" fill="#ff4040" />
<rect x="1201.8" y="233.3" width="4.6" height="10" fill="#ff4040" />
<rect x="1210.8" y="232.3" width="1.5" height="7" fill="#00ffff" />
<rect x="1209.3" y="234.5" width="2.3" height="1.5" fill="#00ffff" />
<rect x="1218.3" y="233.3" width="1.5" height="9" fill="#00ffff" />
<rect x="1216.8" y="237.6" width="4.6" height="1.5" fill="#00ffff" />
<rect x="1225.8" y="243.7" width="1.5" height="11.6" fill="#00ffff" />
<rect x="1224.3" y="243.7" width="4.6" height="11.6" fill="#00ffff" />
<rect x="1233.3" y="236.3" width="1.5" height="14.6" fill="#ff4040" />
<rect x="1231.8" y="242.3" width="4.6" height="8.6" fill="#ff4040" />
<rect x="1240.8" y="240.3" width="1.5" height="27.1" fill="#00ffff" />
<rect x="1239.3" y="241.3" width="4.6" height="22.1" fill="#00ffff" />
<rect x="1248.3" y="256" width="1.5" height="10" fill="#ff4040" />
<rect x="1246.8" y="256" width="4.6" height="6.8" fill="#ff4040" />
<rect x="1255.8" y="236.3" width="1.5" height="14.6" fill="#ff4040" />
<rect x="1254.3" y="242.7" width="4.6" height="8.2" fill="#ff4040" />
<rect x="1263.3" y="236.7" width="1.5" height="10" fill="#ff4040" />
<rect x="1261.8" y="236.7" width="4.6" height="6" fill="#ff4040" />
<rect x="1270.8" y="230.3" width="1.5" height="11" fill="#ff4040" />
<rect x="1269.3" y="231.3" width="4.6" height="8" fill="#ff4040" />
<rect x="1278.3" y="228.3" width="1.5" height="9.4" fill="#00ffff" />
<rect x="1276.8" y="231.7" width="4.6" height="1.5" fill="#00ffff" />
<rect x="1285.8" y="219.2" width="1.5" height="11.7" fill="#ff4040" />
<rect x="1284.3" y="226.7" width="4.6" height="4.2" fill="#ff4040" />
<rect x="1293.3" y="232.6" width="1.5" height="9.2" fill="#00ffff" />
<rect x="1291.8" y="233.4" width="4.6" height="4.2" fill="#00ffff" />
<rect x="1299.3" y="240.9" width="1.5" height="15.1" fill="#00ffff" />
<rect x="1297.8" y="245.1" width="4.6" height="5.9" fill="#00ffff" />
<rect x="1306.8" y="271.9" width="1.5" height="10.9" fill="#ff4040" />
<rect x="1305.3" y="273.2" width="4.6" height="4.5" fill="#ff4040" />
<rect x="1314.3" y="276.6" width="1.5" height="22.4" fill="#00ffff" />
<rect x="1312.8" y="281.1" width="4.6" height="17.9" fill="#00ffff" />
<rect x="1321.8" y="318.7" width="1.5" height="30.1" fill="#ff4040" />
<rect x="1320.3" y="324.3" width="2.3" height="1.5" fill="#ff4040" />
<rect x="1329.3" y="315.7" width="1.5" height="13.4" fill="#00ffff" />
<rect x="1327.8" y="317" width="4.6" height="12" fill="#00ffff" />
<rect x="1336.8" y="311.2" width="1.5" height="10.5" fill="#ff4040" />
<rect x="1335.3" y="314" width="4.6" height="6.4" fill="#ff4040" />
<rect x="1344.3" y="307" width="1.5" height="20.6" fill="#00ffff" />
<rect x="1342.8" y="308.3" width="4.6" height="17.9" fill="#00ffff" />
<rect x="1351.8" y="303.6" width="1.5" height="20.9" fill="#ff4040" />
<rect x="1350.3" y="303.6" width="4.6" height="17.6" fill="#ff4040" />
<rect x="1359.3" y="309.5" width="1.5" height="7.5" fill="#00ffff" />
<rect x="1357.8" y="312.6" width="2.3" height="1.5" fill="#00ffff" />
<rect x="1366.8" y="296.1" width="1.5" height="10.5" fill="#00ffff" />
<rect x="1365.3" y="297.8" width="4.6" height="8.9" fill="#00ffff" />
<rect x="1374.3" y="303.6" width="1.5" height="31.8" fill="#ff4040" />
<rect x="1372.8" y="303.6" width="4.6" height="28.4" fill="#ff4040" />
<rect x="1381.8" y="288.6" width="1.5" height="16.4" fill="#ff4040" />
<rect x="1380.3" y="298.3" width="4.6" height="5" fill="#ff4040" />
<rect x="1389.3" y="266.5" width="1.5" height="27.1" fill="#ff4040" />
<rect x="1387.8" y="267.7" width="4.6" height="23.4" fill="#ff4040" />
<rect x="1396.8" y="261" width="1.5" height="6.7" fill="#ff4040" />
<rect x="1404.3" y="264.3" width="1.5" height="5.9" fill="#ff4040" />
<rect x="1410.3" y="263.8" width="1.5" height="9.7" fill="#00ffff" />
<rect x="1408.8" y="263.8" width="4.6" height="1.5" fill="#00ffff" />
<rect x="1417.8" y="253.8" width="1.5" height="13.9" fill="#ff4040" />
<rect x="1416.3" y="257.7" width="4.6" height="6.2" fill="#ff4040" />
<rect x="1425.3" y="272.2" width="1.5" height="12.2" fill="#ff4040" />
<rect x="1423.8" y="278.6" width="4.6" height="4.2" fill="#ff4040" />
<rect x="1432.8" y="245.1" width="1.5" height="22.6" fill="#ff4040" />
<rect x="1431.3" y="255.5" width="4.6" height="12.2" fill="#ff4040" />
<rect x="1440.3" y="252.6" width="1.5" height="10.9" fill="#00ffff" />
<rect x="1438.8" y="255.5" width="4.6" height="4.7" fill="#00ffff" />
<polyline points="5.8,388.6 26.1,387.8 36.1,386.6 46.2,388.2 60.2,388.2 76.3,393.2 92.3,397.8 108.4,397.8 132.5,398.2 150.5,401.8 166.6,402.2 184.6,404.2 202.7,409.2 220.8,414.3 240.8,421.3 260.9,427.3 281,432.3 300.1,434.5 320.1,436.5 360.3,436.5 392.4,434.5 420.5,433.5 436.5,429.4 452.6,424.4 464.6,418.4 480.7,410.4 494.7,406.4 506.8,394.3 518.8,382.3 532.9,370.2 548.9,354.2 563,340.1 616.5,300 628.5,290.6 644.6,278.5 660.6,270.5 676.7,263.5 692.7,250.4 706.8,238.4 720.8,228.4 734.9,214.3 760.3,199.6 780.4,184.5 800.5,173.5 816.5,169.9 836.1,170.1 860.1,181.1 880.2,188.1 900.3,193.1 920.3,201.2 940.4,208.2 960.5,214.2 976.5,216.2 996.6,222.2 1016.7,229.3 1036.7,231.3 1060.8,235.3 1080.9,235.3 1100,232.7 1124.1,229.3 1136.1,224.7 1152.2,221.6 1168.2,221.6 1184.3,223.2 1200.3,225.9 1220.4,227.3 1236.5,229.3 1248.5,231.3 1272.6,231.3 1294.2,230.9 1310.1,236.4 1326.8,242.6 1346.9,250.1 1367,256.8 1383.7,259.8 1397.1,260.7 1413.8,260.7 1430.5,260.7 1441.4,260.7" fill="none" stroke="#ffff00" stroke-width="1.4" stroke-linejoin="round" stroke-opacity="0.95"/>
<polyline points="5.8,406.2 14,406.2 26.1,400.2 36.1,394.2 54.2,394.6 64.2,402.2 76.3,409.2 88.3,413.2 100.3,418.7 112.4,413.2 124.4,407.8 138.5,412.2 150.5,416.7 168.6,415.9 180.6,417.3 192.7,422.3 204.7,430.3 216.7,438.3 228.8,444.4 240.8,455.4 252.9,461.4 264.9,470.4 272.9,470.8 300.1,464.6 320.1,460.5 340.2,453.5 354.3,443.5 368.3,440.5 384.4,436.5 400.4,434.5 416.5,432.5 428.5,424.4 440.5,410.4 448.6,400.3 458.6,396.3 468.6,382.3 480.7,372.2 494.7,358.2 502.8,336.1 510.8,320.1 518.8,302 520.1,300 538.2,268.5 548.2,246.4 560.3,222.3 568.3,221.9 576.3,214.3 584.4,208.3 592.4,205.3 600.4,204.7 608.4,200.3 616.5,191.2 624.5,184.2 634.5,177.2 642.6,170.2 650.6,174.2 660.6,178.2 671.7,182.2 678.7,179.2 686.7,168.2 696.7,152.1 712.2,128.3 732.2,107.3 752.3,104.7 768.4,90.2 783.4,80.6 792.5,81.2 804.5,83.8 814.5,94.2 826.6,108.3 836.6,118.3 844.6,146.4 854.1,166.1 862.1,184.1 872.2,198.2 884.2,212.2 892.2,217.2 900.3,218.6 908.3,225.3 916.3,232.3 924.4,237.3 932.4,241.3 940.4,248.3 950.4,253.4 960.5,253.4 974.5,253.4 984.6,253.8 994.6,257.4 1004.6,261.4 1012.7,266.4 1018.7,270 1026.7,266 1034.7,264 1042.8,261 1050.8,262.4 1064.8,262.4 1072.9,258.4 1080.9,250.3 1088.9,240.3 1096.9,234.3 1100,232.3 1112,227.3 1124.1,221.2 1136.1,212.2 1148.2,207.2 1160.2,205.2 1168.2,209.2 1180.3,218.2 1192.3,225.3 1204.4,227.3 1216.4,230.3 1228.4,235.3 1240.5,240.3 1248.5,242.7 1258.5,242.7 1266.6,241.3 1276.6,239.3 1286.6,237.9 1294.2,238.4 1301.7,241.8 1310.1,247.6 1317.6,255.2 1325.2,268.5 1333.5,276.9 1343.5,286.1 1353.6,291.9 1363.6,295.3 1372,297.3 1382,297 1390.4,292.8 1400.4,286.9 1410.4,281.1 1418.8,277.7 1427.2,276.1 1435.5,273.5 1441.4,271.9" fill="none" stroke="#ffffff" stroke-width="1.5" stroke-linejoin="round" stroke-opacity="0.85"/>
<polygon points="41.5,354 46.5,354 46.5,361.8 50.8,361.8 44,369 37.2,361.8 41.5,361.8" fill="none" stroke="#00dc00" stroke-width="1.5" stroke-linejoin="round" clip-path="url(#cg)"/>
<polygon points="299.5,430.7 304.5,430.7 304.5,438.5 308.8,438.5 302,445.7 295.2,438.5 299.5,438.5" fill="none" stroke="#00dc00" stroke-width="1.5" stroke-linejoin="round" clip-path="url(#cg)"/>
<polygon points="314.5,427.7 319.5,427.7 319.5,435.5 323.8,435.5 317,442.7 310.2,435.5 314.5,435.5" fill="none" stroke="#00dc00" stroke-width="1.5" stroke-linejoin="round" clip-path="url(#cg)"/>
<polygon points="337,412.7 342,412.7 342,420.5 346.3,420.5 339.5,427.7 332.7,420.5 337,420.5" fill="none" stroke="#00dc00" stroke-width="1.5" stroke-linejoin="round" clip-path="url(#cg)"/>
<polygon points="359.5,397.7 364.5,397.7 364.5,405.5 368.8,405.5 362,412.7 355.2,405.5 359.5,405.5" fill="none" stroke="#00dc00" stroke-width="1.5" stroke-linejoin="round" clip-path="url(#cg)"/>
<polygon points="395.5,402.1 400.5,402.1 400.5,409.9 404.8,409.9 398,417.1 391.2,409.9 395.5,409.9" fill="none" stroke="#00dc00" stroke-width="1.5" stroke-linejoin="round" clip-path="url(#cg)"/>
<polygon points="566.5,140.7 571.5,140.7 571.5,148.5 575.8,148.5 569,155.7 562.2,148.5 566.5,148.5" fill="none" stroke="#00dc00" stroke-width="1.5" stroke-linejoin="round" clip-path="url(#cg)"/>
<polygon points="625,125.7 630,125.7 630,133.5 634.3,133.5 627.5,140.7 620.7,133.5 625,133.5" fill="none" stroke="#00dc00" stroke-width="1.5" stroke-linejoin="round" clip-path="url(#cg)"/>
<polygon points="640,123.2 645,123.2 645,131 649.3,131 642.5,138.2 635.7,131 640,131" fill="none" stroke="#00dc00" stroke-width="1.5" stroke-linejoin="round" clip-path="url(#cg)"/>
<polygon points="730,36.1 735,36.1 735,44 739.3,44 732.5,51.2 725.7,44 730,44" fill="none" stroke="#00dc00" stroke-width="1.5" stroke-linejoin="round" clip-path="url(#cg)"/>
<polygon points="1099,179.8 1104,179.8 1104,187.7 1108.3,187.7 1101.5,194.9 1094.7,187.7 1099,187.7" fill="none" stroke="#00dc00" stroke-width="1.5" stroke-linejoin="round" clip-path="url(#cg)"/>
<polygon points="1144,164.3 1149,164.3 1149,172.2 1153.3,172.2 1146.5,179.4 1139.7,172.2 1144,172.2" fill="none" stroke="#00dc00" stroke-width="1.5" stroke-linejoin="round" clip-path="url(#cg)"/>
<polygon points="1292.5,213 1297.5,213 1297.5,220.8 1301.8,220.8 1295,228 1288.2,220.8 1292.5,220.8" fill="none" stroke="#00dc00" stroke-width="1.5" stroke-linejoin="round" clip-path="url(#cg)"/>
<polygon points="1424.5,252.3 1429.5,252.3 1429.5,260.2 1433.8,260.2 1427,267.4 1420.2,260.2 1424.5,260.2" fill="none" stroke="#00dc00" stroke-width="1.5" stroke-linejoin="round" clip-path="url(#cg)"/>
<polygon points="1439.5,234 1444.5,234 1444.5,241.8 1448.8,241.8 1442,249 1435.2,241.8 1439.5,241.8" fill="none" stroke="#00dc00" stroke-width="1.5" stroke-linejoin="round" clip-path="url(#cg)"/>
<polygon points="87.5,446.4 95.5,454.9 90.8,454.9 90.8,462.9 84.2,462.9 84.2,454.9 79.5,454.9" fill="#ff0000"/>
<polygon points="243.5,489.5 251.5,498 246.8,498 246.8,506 240.2,506 240.2,498 235.5,498" fill="#ff0000"/>
<polygon points="266,504.3 274,512.8 269.3,512.8 269.3,520.8 262.7,520.8 262.7,512.8 258,512.8" fill="#ff0000"/>
<polygon points="458,408.4 466,416.9 461.3,416.9 461.3,424.9 454.7,424.9 454.7,416.9 450,416.9" fill="#ff0000"/>
<polygon points="813.5,165.3 821.5,173.8 816.8,173.8 816.8,181.8 810.2,181.8 810.2,173.8 805.5,173.8" fill="#ff0000"/>
<polygon points="872,293 880,301.5 875.3,301.5 875.3,309.5 868.7,309.5 868.7,301.5 864,301.5" fill="#ff0000"/>
<polygon points="954.5,295.9 962.5,304.4 957.8,304.4 957.8,312.4 951.2,312.4 951.2,304.4 946.5,304.4" fill="#ff0000"/>
<polygon points="1028,284.5 1036,293 1031.3,293 1031.3,301 1024.7,301 1024.7,293 1020,293" fill="#ff0000"/>
<polygon points="1197.5,256 1205.5,264.5 1200.8,264.5 1200.8,272.5 1194.2,272.5 1194.2,264.5 1189.5,264.5" fill="#ff0000"/>
<polygon points="1257.5,254.4 1265.5,262.9 1260.8,262.9 1260.8,270.9 1254.2,270.9 1254.2,262.9 1249.5,262.9" fill="#ff0000"/>
<polygon points="1346,330.7 1354,339.2 1349.3,339.2 1349.3,347.2 1342.7,347.2 1342.7,339.2 1338,339.2" fill="#ff0000"/>
<polygon points="198,15.5 206,24 201.3,24 201.3,32 194.7,32 194.7,24 190,24" fill="#ff0000"/>
<line x1="2" y1="268.3" x2="1467.5" y2="268.3" stroke="#e4e400" stroke-width="1.85" />
<line x1="2" y1="303" x2="1467.5" y2="303" stroke="#d0d000" stroke-width="1.85" />
<line x1="2" y1="370.2" x2="1467.5" y2="370.2" stroke="#d8d800" stroke-width="1.85" />
<line x1="188" y1="38.7" x2="1467.5" y2="500.7" stroke="#d8d800" stroke-width="1.6" />
<line x1="755.5" y1="38.6" x2="1467.5" y2="294.7" stroke="#d8d800" stroke-width="1.6" />
<rect x="1427" y="269.6" width="40.5" height="2.8" fill="#808080" />
<rect x="3.3" y="648.6" width="4.6" height="63.4" fill="#ff4040" />
<rect x="10.8" y="651.8" width="4.6" height="60.2" fill="#00ffff" />
<rect x="18.3" y="659.7" width="4.6" height="52.3" fill="#ff4040" />
<rect x="25.8" y="651.8" width="4.6" height="60.2" fill="#ff4040" />
<rect x="33.3" y="655" width="4.6" height="57" fill="#ff4040" />
<rect x="40.8" y="657.8" width="4.6" height="54.2" fill="#00ffff" />
<rect x="48.3" y="665.2" width="4.6" height="46.8" fill="#ff4040" />
<rect x="55.8" y="674.1" width="4.6" height="37.9" fill="#00ffff" />
<rect x="61.8" y="662.4" width="4.6" height="49.6" fill="#00ffff" />
<rect x="69.3" y="677.2" width="4.6" height="34.8" fill="#00ffff" />
<rect x="76.8" y="680.4" width="4.6" height="31.6" fill="#00ffff" />
<rect x="84.3" y="675.8" width="4.6" height="36.2" fill="#ff4040" />
<rect x="91.8" y="671.5" width="4.6" height="40.5" fill="#00ffff" />
<rect x="99.3" y="676.8" width="4.6" height="35.2" fill="#ff4040" />
<rect x="106.8" y="659.2" width="4.6" height="52.8" fill="#ff4040" />
<rect x="114.3" y="671.9" width="4.6" height="40.1" fill="#ff4040" />
<rect x="121.8" y="674.1" width="4.6" height="37.9" fill="#ff4040" />
<rect x="129.3" y="675.8" width="4.6" height="36.2" fill="#00ffff" />
<rect x="136.8" y="683" width="4.6" height="29" fill="#00ffff" />
<rect x="144.3" y="683" width="4.6" height="29" fill="#00ffff" />
<rect x="151.8" y="686.1" width="4.6" height="25.9" fill="#ff4040" />
<rect x="159.3" y="683.6" width="4.6" height="28.4" fill="#00ffff" />
<rect x="166.8" y="674.7" width="4.6" height="37.3" fill="#ff4040" />
<rect x="172.8" y="674.7" width="4.6" height="37.3" fill="#00ffff" />
<rect x="180.3" y="680" width="4.6" height="32" fill="#ff4040" />
<rect x="187.8" y="680.4" width="4.6" height="31.6" fill="#00ffff" />
<rect x="195.3" y="684.7" width="4.6" height="27.3" fill="#00ffff" />
<rect x="202.8" y="682.1" width="4.6" height="29.9" fill="#00ffff" />
<rect x="210.3" y="683" width="4.6" height="29" fill="#00ffff" />
<rect x="217.8" y="686.1" width="4.6" height="25.9" fill="#ff4040" />
<rect x="225.3" y="675.8" width="4.6" height="36.2" fill="#ff4040" />
<rect x="232.8" y="683" width="4.6" height="29" fill="#00ffff" />
<rect x="240.3" y="677.2" width="4.6" height="34.8" fill="#00ffff" />
<rect x="247.8" y="683" width="4.6" height="29" fill="#ff4040" />
<rect x="255.3" y="682.1" width="4.6" height="29.9" fill="#00ffff" />
<rect x="262.8" y="682.1" width="4.6" height="29.9" fill="#ff4040" />
<rect x="270.3" y="669.8" width="4.6" height="42.2" fill="#ff4040" />
<rect x="277.8" y="666.7" width="4.6" height="45.3" fill="#ff4040" />
<rect x="283.8" y="671.3" width="4.6" height="40.7" fill="#00ffff" />
<rect x="291.3" y="663.5" width="4.6" height="48.5" fill="#ff4040" />
<rect x="298.8" y="671.5" width="4.6" height="40.5" fill="#00ffff" />
<rect x="306.3" y="674.1" width="4.6" height="37.9" fill="#ff4040" />
<rect x="313.8" y="675.1" width="4.6" height="36.9" fill="#00ffff" />
<rect x="321.3" y="671.9" width="4.6" height="40.1" fill="#ff4040" />
<rect x="328.8" y="673" width="4.6" height="39" fill="#ff4040" />
<rect x="336.3" y="674.1" width="4.6" height="37.9" fill="#00ffff" />
<rect x="343.8" y="663.5" width="4.6" height="48.5" fill="#ff4040" />
<rect x="351.3" y="670.9" width="4.6" height="41.1" fill="#ff4040" />
<rect x="358.8" y="671.5" width="4.6" height="40.5" fill="#00ffff" />
<rect x="366.3" y="678.3" width="4.6" height="33.7" fill="#ff4040" />
<rect x="373.8" y="673" width="4.6" height="39" fill="#ff4040" />
<rect x="381.3" y="671.5" width="4.6" height="40.5" fill="#ff4040" />
<rect x="388.8" y="675.1" width="4.6" height="36.9" fill="#00ffff" />
<rect x="394.8" y="675.1" width="4.6" height="36.9" fill="#ff4040" />
<rect x="402.3" y="680.4" width="4.6" height="31.6" fill="#00ffff" />
<rect x="409.8" y="675.8" width="4.6" height="36.2" fill="#ff4040" />
<rect x="417.3" y="678.3" width="4.6" height="33.7" fill="#ff4040" />
<rect x="424.8" y="673" width="4.6" height="39" fill="#ff4040" />
<rect x="432.3" y="665.2" width="4.6" height="46.8" fill="#ff4040" />
<rect x="439.8" y="650.3" width="4.6" height="61.7" fill="#ff4040" />
<rect x="447.3" y="662.4" width="4.6" height="49.6" fill="#ff4040" />
<rect x="454.8" y="663.1" width="4.6" height="48.9" fill="#00ffff" />
<rect x="462.3" y="647.2" width="4.6" height="64.8" fill="#ff4040" />
<rect x="469.8" y="639.7" width="4.6" height="72.3" fill="#00ffff" />
<rect x="477.3" y="650.8" width="4.6" height="61.2" fill="#ff4040" />
<rect x="484.8" y="636.6" width="4.6" height="75.4" fill="#00ffff" />
<rect x="492.3" y="636.6" width="4.6" height="75.4" fill="#ff4040" />
<rect x="499.8" y="580.8" width="4.6" height="131.2" fill="#ff4040" />
<rect x="507.3" y="571.9" width="4.6" height="140.1" fill="#00ffff" />
<rect x="513.3" y="594.6" width="4.6" height="117.4" fill="#ff4040" />
<rect x="520.8" y="625.3" width="4.6" height="86.7" fill="#00ffff" />
<rect x="528.3" y="626" width="4.6" height="86" fill="#ff4040" />
<rect x="535.8" y="580.8" width="4.6" height="131.2" fill="#ff4040" />
<rect x="543.3" y="606.3" width="4.6" height="105.7" fill="#ff4040" />
<rect x="550.8" y="574.9" width="4.6" height="137.1" fill="#ff4040" />
<rect x="558.3" y="567.7" width="4.6" height="144.3" fill="#ff4040" />
<rect x="565.8" y="569.2" width="4.6" height="142.8" fill="#00ffff" />
<rect x="573.3" y="606.7" width="4.6" height="105.3" fill="#ff4040" />
<rect x="580.8" y="585.5" width="4.6" height="126.5" fill="#ff4040" />
<rect x="588.3" y="598.9" width="4.6" height="113.1" fill="#00ffff" />
<rect x="595.8" y="618.6" width="4.6" height="93.4" fill="#00ffff" />
<rect x="603.3" y="627.5" width="4.6" height="84.5" fill="#ff4040" />
<rect x="610.8" y="612.6" width="4.6" height="99.4" fill="#ff4040" />
<rect x="618.3" y="624.7" width="4.6" height="87.3" fill="#00ffff" />
<rect x="624.3" y="623.2" width="4.6" height="88.8" fill="#ff4040" />
<rect x="631.8" y="609.4" width="4.6" height="102.6" fill="#ff4040" />
<rect x="639.3" y="621.5" width="4.6" height="90.5" fill="#ff4040" />
<rect x="646.8" y="616.9" width="4.6" height="95.1" fill="#00ffff" />
<rect x="654.3" y="624.7" width="4.6" height="87.3" fill="#00ffff" />
<rect x="661.8" y="639.5" width="4.6" height="72.5" fill="#ff4040" />
<rect x="669.3" y="639.5" width="4.6" height="72.5" fill="#00ffff" />
<rect x="676.8" y="618.6" width="4.6" height="93.4" fill="#ff4040" />
<rect x="684.3" y="596.1" width="4.6" height="115.9" fill="#ff4040" />
<rect x="691.8" y="600.6" width="4.6" height="111.4" fill="#00ffff" />
<rect x="699.3" y="605.2" width="4.6" height="106.8" fill="#ff4040" />
<rect x="706.8" y="596.1" width="4.6" height="115.9" fill="#ff4040" />
<rect x="714.3" y="587.2" width="4.6" height="124.8" fill="#00ffff" />
<rect x="721.8" y="621.5" width="4.6" height="90.5" fill="#00ffff" />
<rect x="729.3" y="616.9" width="4.6" height="95.1" fill="#ff4040" />
<rect x="735.3" y="624.7" width="4.6" height="87.3" fill="#00ffff" />
<rect x="742.8" y="639.5" width="4.6" height="72.5" fill="#ff4040" />
<rect x="750.3" y="624.7" width="4.6" height="87.3" fill="#00ffff" />
<rect x="757.8" y="623.2" width="4.6" height="88.8" fill="#ff4040" />
<rect x="765.3" y="623.2" width="4.6" height="88.8" fill="#ff4040" />
<rect x="772.8" y="630.6" width="4.6" height="81.4" fill="#00ffff" />
<rect x="780.3" y="633.8" width="4.6" height="78.2" fill="#ff4040" />
<rect x="787.8" y="624.7" width="4.6" height="87.3" fill="#00ffff" />
<rect x="795.3" y="630.6" width="4.6" height="81.4" fill="#00ffff" />
<rect x="802.8" y="642.7" width="4.6" height="69.3" fill="#00ffff" />
<rect x="810.3" y="632.1" width="4.6" height="79.9" fill="#00ffff" />
<rect x="817.8" y="641.2" width="4.6" height="70.8" fill="#00ffff" />
<rect x="825.3" y="639.5" width="4.6" height="72.5" fill="#00ffff" />
<rect x="832.8" y="656.1" width="4.6" height="55.9" fill="#ff4040" />
<rect x="840.3" y="630.6" width="4.6" height="81.4" fill="#00ffff" />
<rect x="846.3" y="648.6" width="4.6" height="63.4" fill="#ff4040" />
<rect x="853.8" y="653.3" width="4.6" height="58.7" fill="#ff4040" />
<rect x="861.3" y="662.4" width="4.6" height="49.6" fill="#00ffff" />
<rect x="868.8" y="641.2" width="4.6" height="70.8" fill="#ff4040" />
<rect x="876.3" y="659.2" width="4.6" height="52.8" fill="#00ffff" />
<rect x="883.8" y="659.2" width="4.6" height="52.8" fill="#ff4040" />
<rect x="891.3" y="656.1" width="4.6" height="55.9" fill="#ff4040" />
<rect x="898.8" y="650.3" width="4.6" height="61.7" fill="#ff4040" />
<rect x="906.3" y="645.9" width="4.6" height="66.1" fill="#00ffff" />
<rect x="913.8" y="659.2" width="4.6" height="52.8" fill="#00ffff" />
<rect x="921.3" y="659.2" width="4.6" height="52.8" fill="#ff4040" />
<rect x="928.8" y="662.4" width="4.6" height="49.6" fill="#00ffff" />
<rect x="936.3" y="662.4" width="4.6" height="49.6" fill="#00ffff" />
<rect x="943.8" y="669.8" width="4.6" height="42.2" fill="#ff4040" />
<rect x="951.3" y="663.5" width="4.6" height="48.5" fill="#ff4040" />
<rect x="957.3" y="656.5" width="4.6" height="55.5" fill="#ff4040" />
<rect x="964.8" y="663.5" width="4.6" height="48.5" fill="#ff4040" />
<rect x="972.3" y="659.7" width="4.6" height="52.3" fill="#ff4040" />
<rect x="979.8" y="661.4" width="4.6" height="50.6" fill="#00ffff" />
<rect x="987.3" y="657.8" width="4.6" height="54.2" fill="#00ffff" />
<rect x="994.8" y="662.4" width="4.6" height="49.6" fill="#00ffff" />
<rect x="1002.3" y="666.7" width="4.6" height="45.3" fill="#00ffff" />
<rect x="1009.8" y="666.7" width="4.6" height="45.3" fill="#00ffff" />
<rect x="1017.3" y="669.8" width="4.6" height="42.2" fill="#ff4040" />
<rect x="1024.8" y="647.2" width="4.6" height="64.8" fill="#ff4040" />
<rect x="1032.3" y="651.8" width="4.6" height="60.2" fill="#00ffff" />
<rect x="1039.8" y="657.8" width="4.6" height="54.2" fill="#ff4040" />
<rect x="1047.3" y="657.8" width="4.6" height="54.2" fill="#00ffff" />
<rect x="1054.8" y="672.6" width="4.6" height="39.4" fill="#ff4040" />
<rect x="1062.3" y="674.1" width="4.6" height="37.9" fill="#00ffff" />
<rect x="1069.8" y="655" width="4.6" height="57" fill="#00ffff" />
<rect x="1075.8" y="639.7" width="4.6" height="72.3" fill="#ff4040" />
<rect x="1083.3" y="639.7" width="4.6" height="72.3" fill="#ff4040" />
<rect x="1090.8" y="659.2" width="4.6" height="52.8" fill="#ff4040" />
<rect x="1098.3" y="650.3" width="4.6" height="61.7" fill="#00ffff" />
<rect x="1105.8" y="668.3" width="4.6" height="43.7" fill="#ff4040" />
<rect x="1113.3" y="662.4" width="4.6" height="49.6" fill="#ff4040" />
<rect x="1120.8" y="666.7" width="4.6" height="45.3" fill="#00ffff" />
<rect x="1128.3" y="648.6" width="4.6" height="63.4" fill="#ff4040" />
<rect x="1135.8" y="657.8" width="4.6" height="54.2" fill="#ff4040" />
<rect x="1143.3" y="660.7" width="4.6" height="51.3" fill="#00ffff" />
<rect x="1150.8" y="662.4" width="4.6" height="49.6" fill="#00ffff" />
<rect x="1158.3" y="672.6" width="4.6" height="39.4" fill="#ff4040" />
<rect x="1165.8" y="659.6" width="4.6" height="52.4" fill="#00ffff" />
<rect x="1173.3" y="674.1" width="4.6" height="37.9" fill="#00ffff" />
<rect x="1180.8" y="677" width="4.6" height="35" fill="#00ffff" />
<rect x="1186.8" y="675.9" width="4.6" height="36.1" fill="#00ffff" />
<rect x="1194.3" y="677" width="4.6" height="35" fill="#ff4040" />
<rect x="1201.8" y="669.1" width="4.6" height="42.9" fill="#ff4040" />
<rect x="1209.3" y="678.6" width="4.6" height="33.4" fill="#00ffff" />
<rect x="1216.8" y="674.7" width="4.6" height="37.3" fill="#00ffff" />
<rect x="1224.3" y="674.1" width="4.6" height="37.9" fill="#00ffff" />
<rect x="1231.8" y="675.9" width="4.6" height="36.1" fill="#ff4040" />
<rect x="1239.3" y="666.4" width="4.6" height="45.6" fill="#00ffff" />
<rect x="1246.8" y="678.6" width="4.6" height="33.4" fill="#ff4040" />
<rect x="1254.3" y="674.7" width="4.6" height="37.3" fill="#ff4040" />
<rect x="1261.8" y="675.9" width="4.6" height="36.1" fill="#ff4040" />
<rect x="1269.3" y="674.7" width="4.6" height="37.3" fill="#ff4040" />
<rect x="1276.8" y="678.6" width="4.6" height="33.4" fill="#00ffff" />
<rect x="1284.3" y="677" width="4.6" height="35" fill="#ff4040" />
<rect x="1291.8" y="677" width="4.6" height="35" fill="#00ffff" />
<rect x="1297.8" y="677" width="4.6" height="35" fill="#00ffff" />
<rect x="1305.3" y="665" width="4.6" height="47" fill="#ff4040" />
<rect x="1312.8" y="669.8" width="4.6" height="42.2" fill="#00ffff" />
<rect x="1320.3" y="653.3" width="4.6" height="58.7" fill="#ff4040" />
<rect x="1327.8" y="672.5" width="4.6" height="39.5" fill="#00ffff" />
<rect x="1335.3" y="674.1" width="4.6" height="37.9" fill="#ff4040" />
<rect x="1342.8" y="674.1" width="4.6" height="37.9" fill="#00ffff" />
<rect x="1350.3" y="678.6" width="4.6" height="33.4" fill="#ff4040" />
<rect x="1357.8" y="678.6" width="4.6" height="33.4" fill="#00ffff" />
<rect x="1365.3" y="677" width="4.6" height="35" fill="#00ffff" />
<rect x="1372.8" y="672.5" width="4.6" height="39.5" fill="#ff4040" />
<rect x="1380.3" y="675.9" width="4.6" height="36.1" fill="#ff4040" />
<rect x="1387.8" y="657.8" width="4.6" height="54.2" fill="#ff4040" />
<rect x="1395.3" y="663.4" width="4.6" height="48.6" fill="#ff4040" />
<rect x="1402.8" y="671.3" width="4.6" height="40.7" fill="#ff4040" />
<rect x="1408.8" y="672.9" width="4.6" height="39.1" fill="#00ffff" />
<rect x="1416.3" y="672.5" width="4.6" height="39.5" fill="#ff4040" />
<rect x="1423.8" y="668.4" width="4.6" height="43.6" fill="#ff4040" />
<rect x="1431.3" y="658.9" width="4.6" height="53.1" fill="#ff4040" />
<rect x="1438.8" y="665" width="4.6" height="47" fill="#00ffff" />
<polyline points="5.7,666.7 13.1,663.9 20.6,663.9 28,663.1 35.4,663.1 43,661.8 50.4,661.8 58.1,660.9 64.2,659.7 71.6,661.4 79,663.9 86.4,666 93.9,668.1 101.3,670.5 109.1,670.9 116.5,672.4 123.9,673 131.4,673.6 139,675.1 146.4,676.2 153.8,676.6 161.4,676.6 168.9,676.6 174.8,676.2 182.2,679.4 189.6,680 197,680.4 204.4,681.5 211.9,682.1 220.3,682.1 227.8,681.5 235.2,681.1 242.6,681.5 250,682.1 257.4,682.1 264.8,682.1 272.2,680.8 280.1,679.4 286,677.2 293.4,676.6 301.7,675.1 316.5,674.7 331.3,673 346.1,671.5 361,671.9 376.2,673 391.1,674.1 412.2,674.7 427.3,675.8 434.7,675.1 442.1,672.4 449.5,670.9 456.9,670.3 464.8,667.7 472.2,664.5 479.6,661.4 487,657.1 494.4,653.5 502.3,645.5 509.7,635.9 515.6,628.5 523.1,625.3 530.5,622.2 538.3,615.8 545.7,612.6 553.1,605.2 560.6,597.8 568,591.4 575.6,592.1 590.6,595.7 605.4,593.6 612.8,596.7 620.3,599.9 627,604.2 634.4,609.4 641.9,613.7 649.3,614.7 656.7,617.9 664.1,622.2 671.5,623.6 678.9,623.6 686.6,622.2 694,619.4 701.4,616.9 708.8,615.8 716.7,614.1 724.1,614.1 731.5,613.7 737.8,611.6 745.3,611.6 752.7,611.6 760.1,614.7 767.5,616.9 774.9,620 782.3,623.2 790.2,626.4 797.6,628.5 805,630 812.4,631.7 819.8,632.3 827.2,633.8 835.3,635.3 842.7,635.9 848.6,638.5 856.1,641.2 863.5,644.4 871.3,645.5 878.9,647.2 886.3,649.7 893.7,650.8 901.1,651.8 908.6,652.5 916,653.9 923.4,655 930.8,655.4 938.2,655.4 946.3,658.2 953.7,658.2 960,658.2 967.5,659.7 974.9,660.3 982.3,661.8 989.7,661.8 997.1,662.4 1004.5,663.1 1011.9,663.1 1019.4,663.1 1027.2,661.4 1034.6,661.8 1042,661.4 1049.7,661.4 1057.1,661.4 1064.5,662.4 1072.3,663.1 1078.3,659.7 1085.7,657.1 1093.1,656.1 1100.9,657.1 1108.3,658.8 1115.8,658.8 1123.2,659.7 1130.6,657.1 1138,655.4 1145.4,655.4 1152.8,658.2 1160.3,660.9 1167.9,661.8 1175.4,663.9 1182.8,665 1188.9,666.4 1196.6,667.5 1204.1,669.1 1211.6,670.7 1219,672 1226.5,674.1 1234,674.7 1241.4,674.7 1256.3,674.7 1263.8,674.7 1271.3,675.4 1286.2,675.4 1300.2,674.7 1307.5,674.7 1314.9,674.1 1322.4,672.5 1329.8,672.5 1337.3,672.5 1352.2,672 1367.2,672 1374.6,672.5 1382.1,672.9 1389.5,672.5 1397,672.9 1404.5,673.6 1411,673.6 1418.5,672.9 1426,672 1433.4,670.2 1440.9,669.1" fill="none" stroke="#ffff00" stroke-width="1.4" stroke-linejoin="round" stroke-opacity="0.95"/>
<polyline points="5.7,665.6 13.1,663.1 20.6,661.4 28,657.1 35.4,653.5 43,655 50.4,658.2 58.1,660.9 64.2,662.4 71.6,669.8 79,674.1 86.4,675.8 93.9,674.7 101.3,676.2 109.1,674.1 116.5,670.9 123.9,670.3 131.4,671.9 139,675.1 146.4,678.3 153.8,681.5 161.4,684.7 168.9,683 174.8,681.5 182.2,681.5 189.6,680.8 197,680.4 204.4,682.1 211.9,683 220.3,683.6 227.8,682.1 235.2,682.1 242.6,682.1 250,682.5 257.4,681.5 264.8,682.1 272.2,680 280.1,676.2 286,674.1 293.4,670.9 298.5,668.8 309.1,670.3 316.5,671.5 331.3,672.4 338.7,672.4 346.1,670.3 361,670.9 368.8,671.9 383.6,672.4 398.1,674.1 412.2,675.1 427.3,675.8 434.7,674.1 442.1,669.8 449.5,665.6 456.9,663.1 464.8,658.2 472.2,652.5 479.6,652.5 487,648.6 494.4,644.4 502.3,629.6 509.7,613.7 515.6,604.2 523.1,602.7 530.5,599.9 538.3,599.5 545.7,606.7 553.1,603.1 560.6,592.5 568,580.8 575.6,585.1 588.5,585.1 598,595.7 605.4,608.8 612.8,609.4 620.3,618.6 627,622.8 634.4,619.4 641.9,619.4 649.3,619.4 656.7,620 664.1,623.2 671.5,628.5 678.9,628.5 686.6,624.3 694,617.9 701.4,612.6 708.8,604.2 716.7,598.9 724.1,602 731.5,605.2 737.8,609.4 745.3,619 752.7,626.4 760.1,627 767.5,627 774.9,628.5 782.3,628.5 790.2,627.9 797.6,629.6 805,632.8 812.4,633.4 819.8,634.2 827.2,638.1 835.3,643.8 842.7,641.2 848.6,643.8 856.1,647.2 863.5,650.8 871.3,647.2 878.9,653.5 886.3,656.1 893.7,656.1 901.1,653.5 908.6,653.5 916,653.5 923.4,653.9 930.8,655 938.2,658.2 946.3,663.1 953.7,663.5 967.5,663.5 974.9,663.1 982.3,661.4 989.7,659.2 997.1,661.8 1004.5,663.5 1011.9,664.5 1019.4,665.6 1027.2,662.4 1034.6,660.9 1042,658.2 1049.7,656.5 1057.1,658.2 1064.5,662.4 1072.3,664.5 1078.3,659.2 1085.7,656.5 1093.1,652.9 1100.9,649.7 1108.3,653.5 1115.8,657.1 1123.2,661.8 1130.6,658.8 1138,661.8 1145.4,660.3 1152.8,660.3 1160.3,662.4 1167.9,661.8 1175.4,666.8 1182.8,670.7 1188.9,672.5 1196.6,674.1 1204.1,674.7 1211.6,677 1219,675.4 1226.5,674.1 1234,674.1 1241.4,673.6 1256.3,673.6 1263.8,673.6 1271.3,674.7 1278.7,676.5 1286.2,676.5 1293.7,676.5 1300.2,676.5 1307.5,675.4 1314.9,673.6 1322.4,668.4 1329.8,666.8 1337.3,666.8 1344.8,668.4 1352.2,670.7 1359.7,675.9 1367.2,677 1374.6,677 1382.1,676.5 1389.5,672.5 1397,668.4 1404.5,668.4 1411,668.4 1418.5,668.4 1426,670.7 1433.4,670.7 1440.9,668.4" fill="none" stroke="#ffffff" stroke-width="1.5" stroke-linejoin="round" stroke-opacity="0.85"/>
<polyline points="5.6,791.9 13.6,795.1 20.4,792.3 28.1,789.2 35.9,786.1 43.4,788.2 50,791.3 57.3,794.4 62.5,801.7 67.8,811.1 73,818.4 79.2,825.7 86.5,830.9 94.2,837.2 101.5,841.7 108.4,835.1 116.3,823.6 124.5,813.6 131.3,809.6 138.6,808 145.9,811.1 154.3,815.3 161.6,817.4 168.9,816.3 174.1,819.4 183.4,823.6 190.7,827.8 198,834.5 205.3,839.2 212.6,842.8 221,845.9 228.3,846.5 235.6,847.6 242.9,847.6 250.2,847.2 257.5,848.6 264.7,851.3 271,845.5 279.3,833 287.7,819.4 301.5,803.8 308.8,798.6 316.1,794.4 323.4,788.8 331.3,784 338.4,781.9 345.9,779.8 353.2,777.8 357.8,779.8 361.9,780.9 368.8,784.6 375.5,787.5 383.8,787.5 391.1,790.3 398.4,794.4 404.7,801.1 411.5,808 416.1,808.4 420.3,806.9 427.6,800.7 434.9,794.4 444.3,787.1 450.5,783 457.8,780.9 465.1,778.4 473.4,775.2 480.7,774.2 487,774.6 495.3,772.1 502.2,771.1 508.9,770.5 516.2,770.5 523.5,771.5 530.8,771.1 538.1,771.5 545.4,772.1 553.1,771.1 560.6,769.4 564.1,772.5 568.3,778.8 575.6,786.1 590.4,794.4 598.8,804.9 605.4,810.1 612.3,810.5 619.6,806.9 626.3,802.8 633.6,798.6 641.5,792.3 647.8,793.4 655,797.6 663.4,806.9 671.7,817.4 678,818 686.3,812.1 693.6,804.9 701.5,796.5 708.8,789.2 716.5,785 723.8,781.9 731.1,778.8 738.4,779.8 745.7,786.1 752.6,794.4 760.3,798 767.6,798 774.9,796.5 782.6,792.3 789.5,793.4 797.8,797.6 805.1,801.7 812.4,812.1 819.7,823.6 827,832 834.3,838.2 841.6,844.5 848.9,848.6 856.2,851.8 863.5,854.5 870.8,854.9 878.3,853.4 886.7,852.2 894,848.6 901.3,840.3 908.6,836.1 916.3,833 923.8,829.9 931.1,826.3 938.4,828.8 946.1,832.6 953.4,832.6 959.6,828.8 968,822.6 975.3,817.4 982.6,813.2 989.9,810.1 997.2,812.1 1005.5,816.3 1012.8,823.6 1020.1,828.4 1026.3,824.2 1034.7,816.3 1042,809 1049.3,805.5 1056.6,803.8 1063.9,802.3 1071.2,799.6 1078.5,795.5 1085.8,789.2 1093.5,785 1100.4,781.5 1107.6,780.9 1115.6,779.8 1123.3,779.8 1130.6,778.4 1138.3,775.7 1145.2,776.7 1153.1,779.8 1160.8,784 1166.8,792.5 1173.6,803.9 1181.5,816.3 1188.9,827.6 1196.2,833.3 1204.1,837.1 1211.6,837.1 1219.3,836.6 1226.7,838.5 1234.2,835.5 1241.4,836.6 1248.9,837.1 1256.3,834.4 1263.8,826.5 1271.3,816.3 1278.7,807.2 1286.2,799.3 1293.7,795.5 1300.2,799.3 1307.5,807.2 1314.9,816.3 1322.4,825.3 1329.8,832.1 1337.3,835.5 1344.8,838.9 1352.2,838.9 1359.7,838.5 1367.2,835.5 1374.6,828.7 1382.1,820.8 1389.5,809.5 1397,800.5 1404.5,792.5 1411,785.8 1418.5,781.2 1426,779.7 1433.4,778.3 1440.9,777.8" fill="none" stroke="#ffff00" stroke-width="1.4" stroke-linejoin="round" stroke-opacity="0.95"/>
<polyline points="5.6,793.4 13.6,800.7 20.4,790.3 28.1,786.1 35.9,776.7 43.4,788.2 50,796.5 57.3,801.7 62.5,818.4 67.8,830.9 73,839.2 79.2,845.5 86.5,842.4 94.2,850.7 101.5,846.5 108.4,822.6 116.3,801.7 124.5,791.9 131.3,799.6 138.6,806.3 145.9,818.4 154.3,821.9 161.6,821.9 168.9,813.6 174.1,825.7 183.4,829.9 190.7,837.2 198,846.5 205.3,848.6 212.6,851.8 221,850.7 228.3,849.7 235.6,848 242.9,849.3 250.2,847.6 257.5,851.8 264.7,854.9 271,835.1 279.3,808 287.7,794.4 301.5,791.3 308.8,785.5 316.1,787.5 323.4,779.8 331.3,773.6 338.4,780.9 345.9,775.7 353.2,773.2 357.8,781.9 361.9,787.5 368.8,792.3 375.5,793.8 383.8,789.2 391.1,796.5 398.4,804.9 404.7,816.3 411.5,821.9 416.1,810.1 420.3,801.7 427.6,790.3 434.9,780.9 444.3,773.6 450.5,771.1 457.8,776.7 465.1,771.1 473.4,771.1 480.7,771.1 487,775.7 495.3,769.4 502.2,766.3 508.9,768.4 516.2,770.5 523.5,773.2 530.8,770.5 538.1,772.5 545.4,772.1 553.1,768 560.6,768 564.1,778.8 568.3,792.3 575.6,801.3 590.4,804.9 598.8,820.5 605.4,824.2 612.3,810.1 619.6,800.7 626.3,792.3 633.6,786.7 641.5,783 647.8,792.3 655,810.1 663.4,821.5 671.7,836.1 678,822.6 686.3,799.6 693.6,788.2 701.5,778.8 708.8,773.6 716.5,773.6 723.8,775.7 731.1,775.7 738.4,781.9 745.7,796.5 752.6,813.2 760.3,804.9 767.6,797.6 774.9,794.4 782.6,785 789.5,792.3 797.8,806.9 805.1,813.2 812.4,833 819.7,844.5 827,850.1 834.3,852.2 841.6,854.9 848.9,855.9 856.2,858 863.5,861.1 870.8,854.9 878.3,850.7 886.7,850.7 894,843.4 901.3,821.9 908.6,825.7 916.3,829.4 923.8,821.9 931.1,820.5 938.4,833 946.1,840.3 953.4,830.9 959.6,820.5 968,812.1 975.3,805.5 982.6,803.8 989.9,805.9 997.2,816.3 1005.5,825.7 1012.8,836.7 1020.1,838.8 1026.3,816.3 1034.7,801.7 1042,793.4 1049.3,797.6 1056.6,800.1 1063.9,798.6 1071.2,795.5 1078.5,786.1 1085.8,777.8 1093.5,772.1 1100.4,775.7 1107.6,778.8 1115.6,776.7 1123.3,780.9 1130.6,773.6 1138.3,769.4 1145.2,777.8 1153.1,787.5 1160.8,791.7 1166.8,809.5 1173.6,825.3 1181.5,838.9 1188.9,846.8 1196.2,849.1 1204.1,841.2 1211.6,836.6 1219.3,835.5 1226.7,841.2 1234.2,832.1 1241.4,839.4 1248.9,839.4 1256.3,828.7 1263.8,811.8 1271.3,794.8 1278.7,786.9 1286.2,784.2 1293.7,789.2 1300.2,802.7 1307.5,819.7 1314.9,837.1 1322.4,841.2 1329.8,844.6 1337.3,843.4 1344.8,846.4 1352.2,840 1359.7,835.5 1367.2,825.3 1374.6,816.3 1382.1,802.7 1389.5,789.2 1397,782.4 1404.5,777.8 1411,773.3 1418.5,769.3 1426,776.7 1433.4,773.8 1440.9,777.8" fill="none" stroke="#ffffff" stroke-width="1.5" stroke-linejoin="round" stroke-opacity="0.85"/>
<polyline points="5.6,798.6 13.6,813.2 20.4,786.1 28.1,774.6 35.9,757.9 43.4,793.4 50,806.9 57.3,816.3 62.5,849.7 67.8,869.5 73,882 79.2,886.2 86.5,867.4 94.2,875.7 101.5,859.1 108.4,801.7 116.3,754.8 124.5,750 131.3,786.1 138.6,804.9 145.9,828.8 154.3,836.7 161.6,833 168.9,810.7 174.1,837.2 183.4,845.5 190.7,858 198,872.6 205.3,868.4 212.6,868.4 221,859.1 228.3,851.8 235.6,849.7 242.9,852.8 250.2,848.6 257.5,859.1 264.7,862.6 271,818.4 279.3,760 286,747.5 301.5,766.3 308.8,762.1 316.1,773.6 323.4,760 331.3,751.7 338.4,776.7 345.9,765.2 353.2,763.8 357.8,783 361.9,794.4 368.8,808.4 375.5,804.9 383.8,790.3 391.1,804.9 398.4,819.4 404.7,845.5 411.5,847.6 416.1,826.7 420.3,801.7 427.6,766.3 434.9,752.7 444.3,748.6 450.5,750.7 457.8,771.5 465.1,759 473.4,763.8 480.7,765.2 487,777.8 495.3,762.1 502.2,757.5 508.9,768.4 516.2,772.5 523.5,778.4 530.8,766.3 538.1,773.6 545.4,772.5 553.1,761.7 560.6,763.8 564.1,791.3 568.3,824.7 575.6,831.3 583.1,818.8 590.4,823.6 598.8,854.9 605.4,851.8 612.3,812.1 619.6,792.3 626.3,774.6 633.6,766.3 641.5,763.2 647.8,789.2 655,834 663.4,851.8 671.7,874.7 678,839.2 686.3,777.8 693.6,762.1 701.5,747.5 708.8,743.8 716.5,755.9 723.8,763.8 731.1,767.3 738.4,787.1 745.7,818.4 752.6,850.7 760.3,813.2 767.6,794.4 774.9,790.3 782.6,766.7 789.5,792.3 797.8,823.6 805.1,834 812.4,872.6 819.7,886.2 827,888.2 834.3,879.9 841.6,876.8 848.9,870.5 856.2,870.1 863.5,873.6 870.8,853.8 878.3,845.9 886.7,847.6 894,830.9 901.3,786.1 908.6,803.8 916.3,822.6 923.8,806.9 931.1,810.1 938.4,841.3 946.1,857 953.4,830.9 959.6,806.9 968,792.3 975.3,781.5 982.6,784 989.9,793.4 997.2,822.6 1005.5,840.3 1012.8,865.9 1020.1,859.1 1026.3,795.5 1034.7,773.6 1042,763.8 1049.3,780.9 1056.6,789.6 1063.9,791.7 1071.2,788.8 1078.5,765.9 1085.8,756.9 1093.5,751.7 1100.4,765.9 1107.6,777.8 1115.6,772.5 1123.3,781.9 1130.6,765.2 1138.3,759 1145.2,781.9 1153.1,803.8 1160.8,808 1166.8,845.7 1173.6,868.3 1181.5,884.1 1188.9,888.2 1196.2,877.4 1204.1,851.3 1211.6,837.8 1219.3,833.3 1226.7,849.1 1234.2,820.8 1241.4,845.7 1248.9,844.6 1256.3,818.6 1263.8,788 1271.3,758.6 1278.7,749.6 1286.2,751.8 1293.7,773.3 1300.2,809.5 1307.5,850.2 1314.9,877.4 1322.4,872.8 1329.8,871 1337.3,859.7 1344.8,859.3 1352.2,842.3 1359.7,836.6 1367.2,814 1374.6,797.1 1382.1,773.3 1389.5,748 1397,745.1 1404.5,746.6 1411,746.6 1418.5,746.6 1426,769.3 1433.4,767.7 1440.9,777.8" fill="none" stroke="#ff00ff" stroke-width="1.45" stroke-linejoin="round" stroke-opacity="0.9"/>
<text x="4" y="29.9" fill="#c8c8c8" font-size="18"  textLength="177" lengthAdjust="spacing">上证指数(日线.前复权)</text>
<text x="211.4" y="29.9" fill="#c8c8c8" font-size="18"  textLength="115.5" lengthAdjust="spacing">EXPMA(12,50)</text>
<text x="336" y="29.9" fill="#c8c8c8" font-size="18"  textLength="48" lengthAdjust="spacing">EXP1:</text>
<text x="390" y="29.9" fill="#c8c8c8" font-size="18"  textLength="65" lengthAdjust="spacing">2871.25</text>
<text x="465" y="29.9" fill="#f2f200" font-size="18"  textLength="49" lengthAdjust="spacing">EXP2:</text>
<text x="519" y="29.9" fill="#f2f200" font-size="18"  textLength="65.5" lengthAdjust="spacing">2892.26</text>
<text x="3" y="556.9" fill="#c8c8c8" font-size="18"  textLength="76" lengthAdjust="spacing">VOLUME:</text>
<text x="86" y="556.9" fill="#c8c8c8" font-size="18"  textLength="117" lengthAdjust="spacing">183097904.00</text>
<text x="213" y="556.9" fill="#c8c8c8" font-size="18"  textLength="37" lengthAdjust="spacing">MA5:</text>
<text x="257" y="556.9" fill="#c8c8c8" font-size="18"  textLength="117" lengthAdjust="spacing">173899616.00</text>
<text x="384.3" y="556.9" fill="#f2f200" font-size="18"  textLength="46.6" lengthAdjust="spacing">MA10:</text>
<text x="438.3" y="556.9" fill="#f2f200" font-size="18"  textLength="117.6" lengthAdjust="spacing">173409616.00</text>
<text x="3.1" y="732.6" fill="#c8c8c8" font-size="18"  textLength="84.5" lengthAdjust="spacing">KDJ(9,3,3)</text>
<text x="98" y="732.6" fill="#c8c8c8" font-size="18"  textLength="14.6" lengthAdjust="spacing">K:</text>
<text x="118.8" y="732.6" fill="#c8c8c8" font-size="18"  textLength="43.8" lengthAdjust="spacing">82.65</text>
<text x="173" y="732.6" fill="#f2f200" font-size="18"  textLength="15.7" lengthAdjust="spacing">D:</text>
<text x="194.9" y="732.6" fill="#f2f200" font-size="18"  textLength="43.8" lengthAdjust="spacing">82.78</text>
<text x="248" y="732.6" fill="#f400f4" font-size="18"  textLength="12.6" lengthAdjust="spacing">J:</text>
<text x="267.5" y="732.6" fill="#f400f4" font-size="18"  textLength="44" lengthAdjust="spacing">82.40</text>
<rect x="1469.1" y="210.6" width="31" height="25.4" fill="#800000" />
<rect x="1469.1" y="212" width="31" height="22.6" fill="#0000ff" />
<text x="1470.2" y="228.7" fill="#dcdcf4" font-size="18"  textLength="67.5" lengthAdjust="spacing">2932.48</text>
<text x="1488.6" y="570" fill="#bc0000" font-size="18"  textLength="41" lengthAdjust="spacing">6000</text>
<text x="1488.6" y="619.8" fill="#bc0000" font-size="18"  textLength="41" lengthAdjust="spacing">4000</text>
<text x="1488.6" y="669.3" fill="#bc0000" font-size="18"  textLength="41" lengthAdjust="spacing">2000</text>
<text x="1471.5" y="708.5" fill="#bc0000" font-size="18"  textLength="37" lengthAdjust="spacing">X1万</text>
<text x="1540" y="765.6" fill="#bc0000" font-size="18" text-anchor="end">100.00</text>
<text x="1540" y="788.1" fill="#bc0000" font-size="18" text-anchor="end">80.00</text>
<text x="1540" y="820.9" fill="#bc0000" font-size="18" text-anchor="end">50.00</text>
<text x="1540" y="853.9" fill="#bc0000" font-size="18" text-anchor="end">20.00</text>
<polygon points="1435.5,17 1443.5,25 1435.5,33 1427.5,25" fill="none" stroke="#800000" stroke-width="1.5"/>
<rect x="1450" y="17.8" width="14" height="15" fill="none" stroke="#800000" stroke-width="1.6"/>
<line x1="1460" y1="17.8" x2="1460" y2="32.8" stroke="#800000" stroke-width="1.5" />
<line x1="50.5" y1="894.3" x2="50.5" y2="897" stroke="#bc0000" stroke-width="1.5" />
<line x1="108" y1="891" x2="108" y2="897" stroke="#800000" stroke-width="1.5" />
<line x1="145.3" y1="891" x2="145.3" y2="894.5" stroke="#800000" stroke-width="1.5" />
<line x1="182.4" y1="891" x2="182.4" y2="894.5" stroke="#800000" stroke-width="1.5" />
<line x1="219" y1="891" x2="219" y2="894.5" stroke="#800000" stroke-width="1.5" />
<line x1="256" y1="891" x2="256" y2="897" stroke="#800000" stroke-width="1.5" />
<line x1="296.3" y1="891" x2="296.3" y2="894.5" stroke="#800000" stroke-width="1.5" />
<line x1="337" y1="891" x2="337" y2="894.5" stroke="#800000" stroke-width="1.5" />
<line x1="377.6" y1="891" x2="377.6" y2="894.5" stroke="#800000" stroke-width="1.5" />
<line x1="417.6" y1="891" x2="417.6" y2="897" stroke="#800000" stroke-width="1.5" />
<line x1="446.3" y1="891" x2="446.3" y2="894.5" stroke="#800000" stroke-width="1.5" />
<line x1="473.4" y1="891" x2="473.4" y2="894.5" stroke="#800000" stroke-width="1.5" />
<line x1="502.2" y1="891" x2="502.2" y2="894.5" stroke="#800000" stroke-width="1.5" />
<line x1="528.7" y1="891" x2="528.7" y2="897" stroke="#800000" stroke-width="1.5" />
<line x1="568.3" y1="891" x2="568.3" y2="894.5" stroke="#800000" stroke-width="1.5" />
<line x1="607.1" y1="891" x2="607.1" y2="894.5" stroke="#800000" stroke-width="1.5" />
<line x1="646.3" y1="891" x2="646.3" y2="894.5" stroke="#800000" stroke-width="1.5" />
<line x1="685.3" y1="891" x2="685.3" y2="897" stroke="#800000" stroke-width="1.5" />
<line x1="724.5" y1="891" x2="724.5" y2="894.5" stroke="#800000" stroke-width="1.5" />
<line x1="763" y1="891" x2="763" y2="894.5" stroke="#800000" stroke-width="1.5" />
<line x1="802" y1="891" x2="802" y2="894.5" stroke="#800000" stroke-width="1.5" />
<line x1="841.2" y1="891" x2="841.2" y2="897" stroke="#800000" stroke-width="1.5" />
<line x1="878.5" y1="891" x2="878.5" y2="894.5" stroke="#800000" stroke-width="1.5" />
<line x1="914.8" y1="891" x2="914.8" y2="894.5" stroke="#800000" stroke-width="1.5" />
<line x1="952.3" y1="891" x2="952.3" y2="894.5" stroke="#800000" stroke-width="1.5" />
<line x1="988.4" y1="891" x2="988.4" y2="897" stroke="#800000" stroke-width="1.5" />
<line x1="1024.3" y1="891" x2="1024.3" y2="894.5" stroke="#800000" stroke-width="1.5" />
<line x1="1058.7" y1="891" x2="1058.7" y2="894.5" stroke="#800000" stroke-width="1.5" />
<line x1="1094.7" y1="891" x2="1094.7" y2="894.5" stroke="#800000" stroke-width="1.5" />
<line x1="1129.1" y1="891" x2="1129.1" y2="897" stroke="#800000" stroke-width="1.5" />
<line x1="1170.5" y1="891" x2="1170.5" y2="894.5" stroke="#800000" stroke-width="1.5" />
<line x1="1214.3" y1="891" x2="1214.3" y2="894.5" stroke="#800000" stroke-width="1.5" />
<line x1="1257.2" y1="891" x2="1257.2" y2="894.5" stroke="#800000" stroke-width="1.5" />
<text x="5.5" y="908.9" fill="#bc0000" font-size="18"  textLength="40" lengthAdjust="spacing">2015</text>
<text x="109.5" y="908.9" fill="#bc0000" font-size="18" >10</text>
<text x="257.5" y="908.9" fill="#bc0000" font-size="18" >11</text>
<text x="419.5" y="908.9" fill="#bc0000" font-size="18" >12</text>
<text x="530.5" y="908.9" fill="#bc0000" font-size="18" >1</text>
<text x="687" y="908.9" fill="#bc0000" font-size="18" >2</text>
<text x="843" y="908.9" fill="#bc0000" font-size="18" >3</text>
<text x="990" y="908.9" fill="#bc0000" font-size="18" >4</text>
<text x="1131" y="908.9" fill="#bc0000" font-size="18" >5</text>
<rect x="1297.6" y="891.8" width="116" height="6" fill="#0000ff" />
<text x="1299.5" y="908.7" fill="#e0e0f4" font-size="18"  textLength="110.5" lengthAdjust="spacing">2016/06/30/四</text>
<line x1="1470" y1="889.8" x2="1499" y2="889.8" stroke="#800000" stroke-width="1.6" />
<rect x="1488.5" y="895" width="12" height="4" fill="#303030" stroke="#d0d0d0" stroke-width="1.5"/>
<polygon points="2,448.5 14.5,466 14.5,510.5 2,529" fill="#363636" fill-opacity="0.92" stroke="#6a6a6a" stroke-width="1.5"/>
<polygon points="3.5,481.5 11,488.3 3.5,495" fill="#e8a000"/>
<rect x="0" y="0" width="2.2" height="897" fill="#e6e6e6" />
</svg>
<div id="tb"><div class="w"></div><div style="position:absolute;left:1496.5px;top:0;width:3px;height:3px;background:#9a9a9a;border-radius:2px 0 0 2px"></div><div class="tab" style="left:580px;width:57px"></div><div class="tab" style="left:648px;width:57px"></div>
<span style="left:41px">分时</span><span style="left:109px">报价</span><span style="left:172px">资讯</span><span style="left:235px">交易</span><span style="left:293px">自选股</span><span style="left:383px">板块</span><span style="left:450px">盘口</span><span style="left:517px">工具</span><span style="left:590px;color:#e02020">日线</span><span style="left:660px;color:#e02020">周线</span><span style="left:992px">上证指数日线图行情数据</span></div>
</body></html>
